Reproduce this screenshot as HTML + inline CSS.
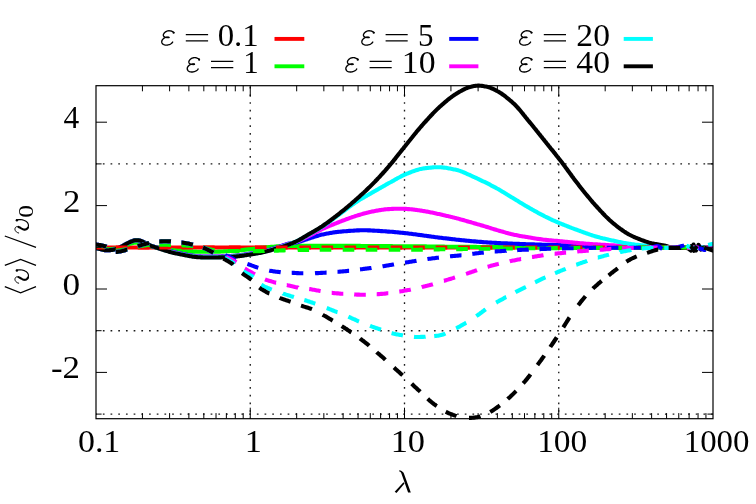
<!DOCTYPE html>
<html><head><meta charset="utf-8"><title>plot</title>
<style>html,body{margin:0;padding:0;background:#fff}svg{display:block;will-change:transform;transform:translateZ(0)}text{font-family:"Liberation Serif",serif;fill:#000}.it{font-style:italic}</style></head><body>
<svg width="756" height="504" viewBox="0 0 756 504">
<rect x="0" y="0" width="756" height="504" fill="#fff"/>
<defs><clipPath id="cp"><rect x="96.0" y="82.7" width="617.0" height="339.0"/></clipPath></defs>
<g stroke="#1a1a1a" stroke-width="1.35" fill="none" stroke-dasharray="1.70 6.00" stroke-dashoffset="0.85">
<path d="M96.0 163.90H713.0"/>
<path d="M96.0 330.70H713.0"/>
<path d="M96.0 414.10H713.0"/>
<path d="M250.25 418.7V85.7"/>
<path d="M404.50 418.7V85.7"/>
<path d="M558.75 418.7V85.7"/>
</g>
<g clip-path="url(#cp)" fill="none" stroke-width="4.1" stroke-linejoin="round">
<path d="M96.0 247.5L713.0 247.5" stroke="#ff0000"/>
<path d="M84.0 245.6L85.0 245.8L86.0 246.0L87.0 246.2L88.0 246.4L89.0 246.5L90.0 246.7L91.0 246.9L92.0 247.1L93.0 247.3L94.0 247.4L95.0 247.6L96.0 247.8L97.0 248.0L98.0 248.2L99.0 248.4L100.0 248.5L101.0 248.7L102.0 248.8L103.0 249.0L104.0 249.1L105.0 249.2L106.0 249.3L107.0 249.3L108.0 249.3L109.0 249.2L110.0 249.2L111.0 249.1L112.0 249.0L113.0 248.9L114.0 248.8L115.0 248.7L116.0 248.5L117.0 248.3L118.0 248.0L119.0 247.7L120.0 247.4L121.0 247.0L122.0 246.7L123.0 246.4L124.0 246.0L125.0 245.6L126.0 245.2L127.0 244.9L128.0 244.5L129.0 244.1L130.0 243.8L131.0 243.5L132.0 243.2L133.0 243.0L134.0 242.8L135.0 242.7L136.0 242.6L137.0 242.6L138.0 242.7L139.0 242.8L140.0 242.9L141.0 243.1L142.0 243.4L143.0 243.7L144.0 244.1L145.0 244.4L146.0 244.7L147.0 245.1L148.0 245.5L149.0 245.8L150.0 246.1L151.0 246.4L152.0 246.6L153.0 246.8L154.0 247.0L155.0 247.2L156.0 247.4L157.0 247.6L158.0 247.8L159.0 248.0L160.0 248.2L161.0 248.4L162.0 248.6L163.0 248.8L164.0 249.0L165.0 249.2L166.0 249.4L167.0 249.5L168.0 249.7L169.0 249.9L170.0 250.0L171.0 250.1L172.0 250.2L173.0 250.3L174.0 250.4L175.0 250.5L176.0 250.6L177.0 250.7L178.0 250.7L179.0 250.8L180.0 250.9L181.0 250.9L182.0 251.0L183.0 251.1L184.0 251.1L185.0 251.2L186.0 251.2L187.0 251.3L188.0 251.3L189.0 251.4L190.0 251.4L191.0 251.5L192.0 251.5L193.0 251.6L194.0 251.6L195.0 251.6L196.0 251.6L197.0 251.7L198.0 251.7L199.0 251.7L200.0 251.7L201.0 251.7L202.0 251.7L203.0 251.7L204.0 251.7L205.0 251.7L206.0 251.7L207.0 251.7L208.0 251.7L209.0 251.7L210.0 251.7L211.0 251.7L212.0 251.7L213.0 251.7L214.0 251.7L215.0 251.7L216.0 251.7L217.0 251.7L218.0 251.6L219.0 251.6L220.0 251.6L221.0 251.5L222.0 251.5L223.0 251.5L224.0 251.4L225.0 251.3L226.0 251.3L227.0 251.2L228.0 251.2L229.0 251.1L230.0 251.0L231.0 251.0L232.0 250.9L233.0 250.8L234.0 250.8L235.0 250.7L236.0 250.6L237.0 250.6L238.0 250.5L239.0 250.4L240.0 250.3L241.0 250.2L242.0 250.1L243.0 250.0L244.0 249.9L245.0 249.8L246.0 249.6L247.0 249.5L248.0 249.4L249.0 249.3L250.0 249.2L251.0 249.1L252.0 249.0L253.0 248.9L254.0 248.7L255.0 248.6L256.0 248.5L257.0 248.4L258.0 248.3L259.0 248.1L260.0 248.0L261.0 247.9L262.0 247.8L263.0 247.7L264.0 247.6L265.0 247.5L266.0 247.4L267.0 247.3L268.0 247.2L269.0 247.1L270.0 247.0L271.0 246.9L272.0 246.8L273.0 246.7L274.0 246.7L275.0 246.6L276.0 246.5L277.0 246.4L278.0 246.4L279.0 246.3L280.0 246.3L281.0 246.3L282.0 246.2L283.0 246.2L284.0 246.2L285.0 246.1L286.0 246.1L287.0 246.1L288.0 246.1L289.0 246.0L290.0 246.0L291.0 246.0L292.0 246.0L293.0 246.0L294.0 245.9L295.0 245.9L296.0 245.9L297.0 245.9L298.0 245.9L299.0 245.9L300.0 245.9L301.0 245.9L302.0 245.9L303.0 245.9L304.0 245.9L305.0 245.9L306.0 245.9L307.0 245.9L308.0 245.9L309.0 245.9L310.0 245.9L311.0 245.9L312.0 245.9L313.0 245.9L314.0 245.9L315.0 245.9L316.0 245.9L317.0 245.9L318.0 245.9L319.0 245.9L320.0 245.9L321.0 245.9L322.0 245.9L323.0 245.9L324.0 245.9L325.0 245.9L326.0 245.9L327.0 245.9L328.0 245.9L329.0 245.9L330.0 245.9L331.0 245.9L332.0 245.9L333.0 245.9L334.0 245.9L335.0 245.9L336.0 245.9L337.0 245.9L338.0 245.9L339.0 245.9L340.0 245.9L341.0 245.9L342.0 245.9L343.0 245.9L344.0 245.9L345.0 245.9L346.0 245.9L347.0 245.9L348.0 245.9L349.0 245.9L350.0 245.9L351.0 245.9L352.0 245.9L353.0 245.9L354.0 245.9L355.0 245.9L356.0 245.9L357.0 245.9L358.0 245.9L359.0 245.9L360.0 245.9L361.0 246.0L362.0 246.0L363.0 246.0L364.0 246.0L365.0 246.0L366.0 246.0L367.0 246.0L368.0 246.0L369.0 246.0L370.0 246.0L371.0 246.0L372.0 246.0L373.0 246.0L374.0 246.0L375.0 246.0L376.0 246.0L377.0 246.0L378.0 246.0L379.0 246.1L380.0 246.1L381.0 246.1L382.0 246.1L383.0 246.1L384.0 246.1L385.0 246.1L386.0 246.1L387.0 246.1L388.0 246.1L389.0 246.1L390.0 246.1L391.0 246.1L392.0 246.1L393.0 246.2L394.0 246.2L395.0 246.2L396.0 246.2L397.0 246.2L398.0 246.2L399.0 246.2L400.0 246.2L401.0 246.2L402.0 246.2L403.0 246.2L404.0 246.2L405.0 246.2L406.0 246.2L407.0 246.3L408.0 246.3L409.0 246.3L410.0 246.3L411.0 246.3L412.0 246.3L413.0 246.3L414.0 246.3L415.0 246.3L416.0 246.3L417.0 246.3L418.0 246.4L419.0 246.4L420.0 246.4L421.0 246.4L422.0 246.4L423.0 246.4L424.0 246.4L425.0 246.4L426.0 246.4L427.0 246.5L428.0 246.5L429.0 246.5L430.0 246.5L431.0 246.5L432.0 246.5L433.0 246.5L434.0 246.5L435.0 246.5L436.0 246.6L437.0 246.6L438.0 246.6L439.0 246.6L440.0 246.6L441.0 246.6L442.0 246.6L443.0 246.6L444.0 246.6L445.0 246.7L446.0 246.7L447.0 246.7L448.0 246.7L449.0 246.7L450.0 246.7L451.0 246.7L452.0 246.7L453.0 246.7L454.0 246.7L455.0 246.7L456.0 246.8L457.0 246.8L458.0 246.8L459.0 246.8L460.0 246.8L461.0 246.8L462.0 246.8L463.0 246.8L464.0 246.8L465.0 246.8L466.0 246.9L467.0 246.9L468.0 246.9L469.0 246.9L470.0 246.9L471.0 246.9L472.0 246.9L473.0 246.9L474.0 246.9L475.0 246.9L476.0 246.9L477.0 247.0L478.0 247.0L479.0 247.0L480.0 247.0L481.0 247.0L482.0 247.0L483.0 247.0L484.0 247.0L485.0 247.0L486.0 247.0L487.0 247.0L488.0 247.1L489.0 247.1L490.0 247.1L491.0 247.1L492.0 247.1L493.0 247.1L494.0 247.1L495.0 247.1L496.0 247.1L497.0 247.1L498.0 247.1L499.0 247.1L500.0 247.2L501.0 247.2L502.0 247.2L503.0 247.2L504.0 247.2L505.0 247.2L506.0 247.2L507.0 247.2L508.0 247.2L509.0 247.2L510.0 247.2L511.0 247.2L512.0 247.2L513.0 247.3L514.0 247.3L515.0 247.3L516.0 247.3L517.0 247.3L518.0 247.3L519.0 247.3L520.0 247.3L521.0 247.3L522.0 247.3L523.0 247.3L524.0 247.3L525.0 247.3L526.0 247.3L527.0 247.3L528.0 247.4L529.0 247.4L530.0 247.4L531.0 247.4L532.0 247.4L533.0 247.4L534.0 247.4L535.0 247.4L536.0 247.4L537.0 247.4L538.0 247.4L539.0 247.4L540.0 247.4L541.0 247.4L542.0 247.4L543.0 247.5L544.0 247.5L545.0 247.5L546.0 247.5L547.0 247.5L548.0 247.5L549.0 247.5L550.0 247.5L551.0 247.5L552.0 247.5L553.0 247.5L554.0 247.5L555.0 247.5L556.0 247.5L557.0 247.5L558.0 247.6L559.0 247.6L560.0 247.6L561.0 247.6L562.0 247.6L563.0 247.6L564.0 247.6L565.0 247.6L566.0 247.6L567.0 247.6L568.0 247.6L569.0 247.6L570.0 247.6L571.0 247.6L572.0 247.6L573.0 247.6L574.0 247.6L575.0 247.6L576.0 247.6L577.0 247.6L578.0 247.7L579.0 247.7L580.0 247.7L581.0 247.7L582.0 247.7L583.0 247.7L584.0 247.7L585.0 247.7L586.0 247.7L587.0 247.7L588.0 247.7L589.0 247.7L590.0 247.7L591.0 247.7L592.0 247.7L593.0 247.7L594.0 247.7L595.0 247.7L596.0 247.7L597.0 247.7L598.0 247.7L599.0 247.7L600.0 247.7L601.0 247.7L602.0 247.7L603.0 247.7L604.0 247.7L605.0 247.7L606.0 247.7L607.0 247.7L608.0 247.7L609.0 247.7L610.0 247.7L611.0 247.7L612.0 247.7L613.0 247.7L614.0 247.7L615.0 247.7L616.0 247.7L617.0 247.7L618.0 247.7L619.0 247.7L620.0 247.7L621.0 247.7L622.0 247.7L623.0 247.7L624.0 247.7L625.0 247.7L626.0 247.7L627.0 247.7L628.0 247.7L629.0 247.7L630.0 247.7L631.0 247.7L632.0 247.7L633.0 247.7L634.0 247.7L635.0 247.7L636.0 247.7L637.0 247.6L638.0 247.6L639.0 247.6L640.0 247.6L641.0 247.6L642.0 247.6L643.0 247.6L644.0 247.6L645.0 247.6L646.0 247.6L647.0 247.6L648.0 247.6L649.0 247.6L650.0 247.6L651.0 247.6L652.0 247.6L653.0 247.6L654.0 247.6L655.0 247.6L656.0 247.6L657.0 247.6L658.0 247.6L659.0 247.6L660.0 247.6L661.0 247.6L662.0 247.6L663.0 247.6L664.0 247.6L665.0 247.6L666.0 247.6L667.0 247.6L668.0 247.6L669.0 247.6L670.0 247.6L671.0 247.6L672.0 247.6L673.0 247.6L674.0 247.6L675.0 247.6L676.0 247.6L677.0 247.5L678.0 247.5L679.0 247.5L680.0 247.5L681.0 247.5L682.0 247.5L683.0 247.5L684.0 247.5L685.0 247.5L686.0 247.5L713.0 247.5L722.0 247.5" stroke="#00ff00"/>
<path d="M84.0 244.9L85.0 245.1L86.0 245.4L87.0 245.7L88.0 245.9L89.0 246.2L90.0 246.4L91.0 246.7L92.0 247.0L93.0 247.2L94.0 247.5L95.0 247.7L96.0 248.0L97.0 248.3L98.0 248.5L99.0 248.8L100.0 249.1L101.0 249.3L102.0 249.5L103.0 249.8L104.0 250.0L105.0 250.2L106.0 250.3L107.0 250.3L108.0 250.3L109.0 250.2L110.0 250.1L111.0 250.0L112.0 249.9L113.0 249.7L114.0 249.5L115.0 249.3L116.0 249.0L117.0 248.7L118.0 248.3L119.0 247.8L120.0 247.3L121.0 246.8L122.0 246.3L123.0 245.8L124.0 245.2L125.0 244.6L126.0 244.1L127.0 243.5L128.0 243.0L129.0 242.5L130.0 242.0L131.0 241.6L132.0 241.2L133.0 240.9L134.0 240.5L135.0 240.3L136.0 240.2L137.0 240.2L138.0 240.3L139.0 240.4L140.0 240.6L141.0 240.9L142.0 241.3L143.0 241.8L144.0 242.3L145.0 242.8L146.0 243.3L147.0 243.9L148.0 244.4L149.0 244.9L150.0 245.4L151.0 245.8L152.0 246.2L153.0 246.5L154.0 246.8L155.0 247.1L156.0 247.3L157.0 247.6L158.0 247.8L159.0 248.0L160.0 248.3L161.0 248.5L162.0 248.7L163.0 249.0L164.0 249.2L165.0 249.5L166.0 249.9L167.0 250.2L168.0 250.5L169.0 250.8L170.0 251.1L171.0 251.4L172.0 251.6L173.0 251.8L174.0 252.1L175.0 252.3L176.0 252.5L177.0 252.7L178.0 252.9L179.0 253.1L180.0 253.3L181.0 253.5L182.0 253.7L183.0 253.9L184.0 254.1L185.0 254.3L186.0 254.5L187.0 254.7L188.0 254.9L189.0 255.1L190.0 255.3L191.0 255.4L192.0 255.6L193.0 255.8L194.0 255.9L195.0 256.0L196.0 256.1L197.0 256.2L198.0 256.3L199.0 256.3L200.0 256.4L201.0 256.5L202.0 256.5L203.0 256.6L204.0 256.6L205.0 256.6L206.0 256.6L207.0 256.6L208.0 256.6L209.0 256.6L210.0 256.6L211.0 256.6L212.0 256.6L213.0 256.6L214.0 256.6L215.0 256.6L216.0 256.6L217.0 256.6L218.0 256.6L219.0 256.5L220.0 256.5L221.0 256.5L222.0 256.4L223.0 256.4L224.0 256.3L225.0 256.3L226.0 256.3L227.0 256.2L228.0 256.2L229.0 256.1L230.0 256.0L231.0 256.0L232.0 255.9L233.0 255.8L234.0 255.7L235.0 255.7L236.0 255.6L237.0 255.5L238.0 255.4L239.0 255.3L240.0 255.1L241.0 255.0L242.0 254.9L243.0 254.7L244.0 254.6L245.0 254.4L246.0 254.3L247.0 254.1L248.0 253.9L249.0 253.8L250.0 253.6L251.0 253.5L252.0 253.3L253.0 253.2L254.0 253.0L255.0 252.9L256.0 252.7L257.0 252.5L258.0 252.4L259.0 252.2L260.0 252.0L261.0 251.8L262.0 251.6L263.0 251.4L264.0 251.2L265.0 250.9L266.0 250.7L267.0 250.4L268.0 250.1L269.0 249.9L270.0 249.6L271.0 249.3L272.0 249.0L273.0 248.7L274.0 248.4L275.0 248.1L276.0 247.8L277.0 247.5L278.0 247.2L279.0 246.8L280.0 246.4L281.0 246.1L282.0 245.7L283.0 245.3L284.0 245.0L285.0 244.7L286.0 244.3L287.0 244.1L288.0 243.8L289.0 243.6L290.0 243.5L291.0 243.3L292.0 243.2L293.0 243.1L294.0 242.9L295.0 242.8L296.0 242.6L297.0 242.4L298.0 242.1L299.0 241.8L300.0 241.5L301.0 241.2L302.0 240.9L303.0 240.5L304.0 240.2L305.0 239.8L306.0 239.5L307.0 239.2L308.0 238.9L309.0 238.6L310.0 238.2L311.0 237.9L312.0 237.6L313.0 237.3L314.0 236.9L315.0 236.6L316.0 236.3L317.0 236.0L318.0 235.7L319.0 235.4L320.0 235.1L321.0 234.8L322.0 234.6L323.0 234.4L324.0 234.2L325.0 234.0L326.0 233.8L327.0 233.6L328.0 233.4L329.0 233.2L330.0 233.0L331.0 232.9L332.0 232.7L333.0 232.5L334.0 232.4L335.0 232.3L336.0 232.1L337.0 232.0L338.0 231.9L339.0 231.8L340.0 231.7L341.0 231.6L342.0 231.5L343.0 231.4L344.0 231.3L345.0 231.3L346.0 231.2L347.0 231.1L348.0 231.0L349.0 230.9L350.0 230.9L351.0 230.8L352.0 230.7L353.0 230.7L354.0 230.6L355.0 230.5L356.0 230.5L357.0 230.4L358.0 230.4L359.0 230.4L360.0 230.3L361.0 230.3L362.0 230.3L363.0 230.3L364.0 230.3L365.0 230.3L366.0 230.3L367.0 230.3L368.0 230.4L369.0 230.4L370.0 230.4L371.0 230.5L372.0 230.5L373.0 230.6L374.0 230.6L375.0 230.7L376.0 230.7L377.0 230.8L378.0 230.9L379.0 230.9L380.0 231.0L381.0 231.1L382.0 231.1L383.0 231.2L384.0 231.3L385.0 231.3L386.0 231.4L387.0 231.5L388.0 231.6L389.0 231.6L390.0 231.7L391.0 231.8L392.0 231.8L393.0 231.9L394.0 232.0L395.0 232.1L396.0 232.2L397.0 232.3L398.0 232.4L399.0 232.5L400.0 232.6L401.0 232.7L402.0 232.8L403.0 232.9L404.0 233.0L405.0 233.1L406.0 233.2L407.0 233.3L408.0 233.4L409.0 233.6L410.0 233.7L411.0 233.8L412.0 233.9L413.0 234.1L414.0 234.2L415.0 234.3L416.0 234.4L417.0 234.6L418.0 234.7L419.0 234.9L420.0 235.0L421.0 235.1L422.0 235.3L423.0 235.4L424.0 235.6L425.0 235.7L426.0 235.8L427.0 236.0L428.0 236.1L429.0 236.3L430.0 236.4L431.0 236.5L432.0 236.7L433.0 236.8L434.0 236.9L435.0 237.1L436.0 237.2L437.0 237.3L438.0 237.5L439.0 237.6L440.0 237.7L441.0 237.8L442.0 237.9L443.0 238.1L444.0 238.2L445.0 238.3L446.0 238.4L447.0 238.5L448.0 238.6L449.0 238.8L450.0 238.9L451.0 239.0L452.0 239.1L453.0 239.2L454.0 239.3L455.0 239.4L456.0 239.6L457.0 239.7L458.0 239.8L459.0 239.9L460.0 240.0L461.0 240.1L462.0 240.2L463.0 240.3L464.0 240.4L465.0 240.5L466.0 240.6L467.0 240.7L468.0 240.8L469.0 240.9L470.0 241.0L471.0 241.1L472.0 241.2L473.0 241.3L474.0 241.4L475.0 241.4L476.0 241.5L477.0 241.6L478.0 241.7L479.0 241.8L480.0 241.9L481.0 241.9L482.0 242.0L483.0 242.1L484.0 242.2L485.0 242.3L486.0 242.3L487.0 242.4L488.0 242.5L489.0 242.5L490.0 242.6L491.0 242.6L492.0 242.7L493.0 242.8L494.0 242.8L495.0 242.9L496.0 242.9L497.0 243.0L498.0 243.0L499.0 243.1L500.0 243.1L501.0 243.2L502.0 243.2L503.0 243.2L504.0 243.3L505.0 243.3L506.0 243.4L507.0 243.4L508.0 243.5L509.0 243.5L510.0 243.6L511.0 243.6L512.0 243.6L513.0 243.7L514.0 243.7L515.0 243.8L516.0 243.8L517.0 243.8L518.0 243.9L519.0 243.9L520.0 244.0L521.0 244.0L522.0 244.0L523.0 244.1L524.0 244.1L525.0 244.1L526.0 244.2L527.0 244.2L528.0 244.2L529.0 244.3L530.0 244.3L531.0 244.3L532.0 244.4L533.0 244.4L534.0 244.4L535.0 244.5L536.0 244.5L537.0 244.5L538.0 244.6L539.0 244.6L540.0 244.6L541.0 244.6L542.0 244.7L543.0 244.7L544.0 244.7L545.0 244.8L546.0 244.8L547.0 244.8L548.0 244.8L549.0 244.9L550.0 244.9L551.0 244.9L552.0 244.9L553.0 245.0L554.0 245.0L555.0 245.0L556.0 245.0L557.0 245.1L558.0 245.1L559.0 245.1L560.0 245.1L561.0 245.2L562.0 245.2L563.0 245.2L564.0 245.2L565.0 245.2L566.0 245.3L567.0 245.3L568.0 245.3L569.0 245.3L570.0 245.4L571.0 245.4L572.0 245.4L573.0 245.4L574.0 245.4L575.0 245.5L576.0 245.5L577.0 245.5L578.0 245.5L579.0 245.5L580.0 245.6L581.0 245.6L582.0 245.6L583.0 245.6L584.0 245.6L585.0 245.7L586.0 245.7L587.0 245.7L588.0 245.7L589.0 245.7L590.0 245.8L591.0 245.8L592.0 245.8L593.0 245.8L594.0 245.8L595.0 245.8L596.0 245.9L597.0 245.9L598.0 245.9L599.0 245.9L600.0 245.9L601.0 246.0L602.0 246.0L603.0 246.0L604.0 246.0L605.0 246.0L606.0 246.1L607.0 246.1L608.0 246.1L609.0 246.1L610.0 246.1L611.0 246.2L612.0 246.2L613.0 246.2L614.0 246.2L615.0 246.2L616.0 246.3L617.0 246.3L618.0 246.3L619.0 246.3L620.0 246.3L621.0 246.4L622.0 246.4L623.0 246.4L624.0 246.4L625.0 246.5L626.0 246.5L627.0 246.5L628.0 246.5L629.0 246.5L630.0 246.6L631.0 246.6L632.0 246.6L633.0 246.6L634.0 246.7L635.0 246.7L636.0 246.7L637.0 246.7L638.0 246.8L639.0 246.8L640.0 246.8L641.0 246.8L642.0 246.8L643.0 246.9L644.0 246.9L645.0 246.9L646.0 246.9L647.0 247.0L648.0 247.0L649.0 247.0L650.0 247.0L651.0 247.0L652.0 247.1L653.0 247.1L654.0 247.1L655.0 247.1L656.0 247.1L657.0 247.1L658.0 247.2L659.0 247.2L660.0 247.2L661.0 247.2L662.0 247.2L663.0 247.2L664.0 247.2L665.0 247.3L666.0 247.3L667.0 247.3L668.0 247.3L669.0 247.3L670.0 247.3L671.0 247.3L672.0 247.3L673.0 247.3L674.0 247.3L675.0 247.3L676.0 247.3L677.0 247.3L678.0 247.4L679.0 247.4L680.0 247.4L681.0 247.4L682.0 247.4L683.0 247.4L684.0 247.4L685.0 247.4L686.0 247.4L713.0 247.5L722.0 247.5" stroke="#0000ff"/>
<path d="M84.0 244.9L85.0 245.1L86.0 245.4L87.0 245.7L88.0 245.9L89.0 246.2L90.0 246.4L91.0 246.7L92.0 247.0L93.0 247.2L94.0 247.5L95.0 247.7L96.0 248.0L97.0 248.3L98.0 248.5L99.0 248.8L100.0 249.1L101.0 249.3L102.0 249.5L103.0 249.8L104.0 250.0L105.0 250.2L106.0 250.3L107.0 250.3L108.0 250.3L109.0 250.2L110.0 250.1L111.0 250.0L112.0 249.9L113.0 249.7L114.0 249.5L115.0 249.3L116.0 249.0L117.0 248.7L118.0 248.3L119.0 247.8L120.0 247.3L121.0 246.8L122.0 246.3L123.0 245.8L124.0 245.2L125.0 244.6L126.0 244.1L127.0 243.5L128.0 243.0L129.0 242.5L130.0 242.0L131.0 241.6L132.0 241.2L133.0 240.9L134.0 240.5L135.0 240.3L136.0 240.2L137.0 240.2L138.0 240.3L139.0 240.4L140.0 240.6L141.0 240.9L142.0 241.3L143.0 241.8L144.0 242.3L145.0 242.8L146.0 243.3L147.0 243.9L148.0 244.4L149.0 244.9L150.0 245.4L151.0 245.8L152.0 246.2L153.0 246.5L154.0 246.8L155.0 247.1L156.0 247.4L157.0 247.7L158.0 247.9L159.0 248.2L160.0 248.4L161.0 248.7L162.0 249.0L163.0 249.3L164.0 249.5L165.0 249.9L166.0 250.2L167.0 250.5L168.0 250.8L169.0 251.1L170.0 251.4L171.0 251.7L172.0 251.9L173.0 252.1L174.0 252.4L175.0 252.6L176.0 252.8L177.0 253.0L178.0 253.2L179.0 253.4L180.0 253.6L181.0 253.8L182.0 254.0L183.0 254.2L184.0 254.4L185.0 254.6L186.0 254.8L187.0 255.0L188.0 255.2L189.0 255.4L190.0 255.6L191.0 255.7L192.0 255.9L193.0 256.1L194.0 256.2L195.0 256.3L196.0 256.4L197.0 256.5L198.0 256.6L199.0 256.6L200.0 256.7L201.0 256.8L202.0 256.8L203.0 256.9L204.0 256.9L205.0 256.9L206.0 256.9L207.0 256.9L208.0 256.9L209.0 256.9L210.0 256.9L211.0 256.9L212.0 256.9L213.0 256.9L214.0 256.9L215.0 256.9L216.0 256.9L217.0 256.9L218.0 256.9L219.0 256.8L220.0 256.8L221.0 256.8L222.0 256.7L223.0 256.7L224.0 256.6L225.0 256.6L226.0 256.6L227.0 256.5L228.0 256.5L229.0 256.4L230.0 256.3L231.0 256.3L232.0 256.2L233.0 256.1L234.0 256.0L235.0 256.0L236.0 255.9L237.0 255.8L238.0 255.7L239.0 255.6L240.0 255.4L241.0 255.3L242.0 255.2L243.0 255.0L244.0 254.9L245.0 254.7L246.0 254.6L247.0 254.4L248.0 254.2L249.0 254.1L250.0 253.9L251.0 253.8L252.0 253.6L253.0 253.5L254.0 253.3L255.0 253.2L256.0 253.0L257.0 252.8L258.0 252.7L259.0 252.5L260.0 252.3L261.0 252.1L262.0 251.9L263.0 251.7L264.0 251.5L265.0 251.2L266.0 251.0L267.0 250.7L268.0 250.4L269.0 250.2L270.0 249.9L271.0 249.6L272.0 249.3L273.0 249.0L274.0 248.7L275.0 248.4L276.0 248.1L277.0 247.8L278.0 247.5L279.0 247.2L280.0 246.8L281.0 246.5L282.0 246.1L283.0 245.8L284.0 245.5L285.0 245.1L286.0 244.8L287.0 244.5L288.0 244.2L289.0 243.9L290.0 243.6L291.0 243.4L292.0 243.1L293.0 242.9L294.0 242.6L295.0 242.3L296.0 242.0L297.0 241.6L298.0 241.2L299.0 240.8L300.0 240.4L301.0 239.9L302.0 239.4L303.0 238.9L304.0 238.4L305.0 237.8L306.0 237.3L307.0 236.9L308.0 236.4L309.0 235.9L310.0 235.3L311.0 234.8L312.0 234.3L313.0 233.8L314.0 233.3L315.0 232.7L316.0 232.2L317.0 231.7L318.0 231.2L319.0 230.7L320.0 230.2L321.0 229.7L322.0 229.2L323.0 228.7L324.0 228.3L325.0 227.8L326.0 227.4L327.0 227.0L328.0 226.5L329.0 226.1L330.0 225.7L331.0 225.3L332.0 224.9L333.0 224.5L334.0 224.1L335.0 223.7L336.0 223.3L337.0 222.9L338.0 222.5L339.0 222.1L340.0 221.7L341.0 221.3L342.0 220.9L343.0 220.5L344.0 220.2L345.0 219.8L346.0 219.4L347.0 219.0L348.0 218.7L349.0 218.3L350.0 217.9L351.0 217.6L352.0 217.2L353.0 216.9L354.0 216.6L355.0 216.2L356.0 215.9L357.0 215.6L358.0 215.3L359.0 215.0L360.0 214.7L361.0 214.4L362.0 214.1L363.0 213.8L364.0 213.5L365.0 213.2L366.0 213.0L367.0 212.7L368.0 212.5L369.0 212.2L370.0 212.0L371.0 211.8L372.0 211.5L373.0 211.4L374.0 211.2L375.0 211.0L376.0 210.8L377.0 210.6L378.0 210.5L379.0 210.3L380.0 210.1L381.0 210.0L382.0 209.8L383.0 209.7L384.0 209.5L385.0 209.4L386.0 209.3L387.0 209.2L388.0 209.1L389.0 209.1L390.0 209.0L391.0 209.0L392.0 208.9L393.0 208.9L394.0 208.8L395.0 208.8L396.0 208.8L397.0 208.7L398.0 208.7L399.0 208.7L400.0 208.7L401.0 208.7L402.0 208.7L403.0 208.8L404.0 208.8L405.0 208.9L406.0 208.9L407.0 209.0L408.0 209.1L409.0 209.1L410.0 209.2L411.0 209.3L412.0 209.4L413.0 209.5L414.0 209.6L415.0 209.7L416.0 209.9L417.0 210.0L418.0 210.2L419.0 210.3L420.0 210.5L421.0 210.6L422.0 210.8L423.0 211.0L424.0 211.1L425.0 211.3L426.0 211.5L427.0 211.6L428.0 211.8L429.0 212.0L430.0 212.2L431.0 212.4L432.0 212.6L433.0 212.8L434.0 213.0L435.0 213.2L436.0 213.4L437.0 213.7L438.0 213.9L439.0 214.1L440.0 214.3L441.0 214.5L442.0 214.7L443.0 215.0L444.0 215.2L445.0 215.4L446.0 215.7L447.0 215.9L448.0 216.1L449.0 216.4L450.0 216.6L451.0 216.9L452.0 217.1L453.0 217.4L454.0 217.6L455.0 217.9L456.0 218.1L457.0 218.4L458.0 218.6L459.0 218.9L460.0 219.2L461.0 219.5L462.0 219.7L463.0 220.0L464.0 220.3L465.0 220.6L466.0 220.9L467.0 221.2L468.0 221.5L469.0 221.8L470.0 222.0L471.0 222.3L472.0 222.6L473.0 222.9L474.0 223.2L475.0 223.5L476.0 223.8L477.0 224.1L478.0 224.4L479.0 224.6L480.0 224.9L481.0 225.2L482.0 225.5L483.0 225.8L484.0 226.1L485.0 226.4L486.0 226.7L487.0 227.0L488.0 227.3L489.0 227.6L490.0 227.9L491.0 228.3L492.0 228.6L493.0 228.9L494.0 229.2L495.0 229.5L496.0 229.8L497.0 230.1L498.0 230.4L499.0 230.7L500.0 231.0L501.0 231.3L502.0 231.5L503.0 231.8L504.0 232.1L505.0 232.4L506.0 232.7L507.0 232.9L508.0 233.2L509.0 233.5L510.0 233.7L511.0 234.0L512.0 234.2L513.0 234.4L514.0 234.7L515.0 234.9L516.0 235.1L517.0 235.3L518.0 235.5L519.0 235.7L520.0 235.9L521.0 236.1L522.0 236.2L523.0 236.4L524.0 236.6L525.0 236.8L526.0 236.9L527.0 237.1L528.0 237.3L529.0 237.4L530.0 237.6L531.0 237.8L532.0 237.9L533.0 238.1L534.0 238.2L535.0 238.4L536.0 238.6L537.0 238.7L538.0 238.9L539.0 239.0L540.0 239.1L541.0 239.3L542.0 239.4L543.0 239.6L544.0 239.7L545.0 239.8L546.0 239.9L547.0 240.0L548.0 240.1L549.0 240.2L550.0 240.3L551.0 240.4L552.0 240.5L553.0 240.6L554.0 240.7L555.0 240.8L556.0 240.8L557.0 240.9L558.0 241.0L559.0 241.1L560.0 241.2L561.0 241.3L562.0 241.4L563.0 241.5L564.0 241.6L565.0 241.7L566.0 241.8L567.0 241.9L568.0 242.0L569.0 242.1L570.0 242.2L571.0 242.3L572.0 242.4L573.0 242.5L574.0 242.6L575.0 242.7L576.0 242.8L577.0 242.9L578.0 243.0L579.0 243.1L580.0 243.2L581.0 243.3L582.0 243.4L583.0 243.4L584.0 243.5L585.0 243.6L586.0 243.7L587.0 243.7L588.0 243.8L589.0 243.9L590.0 244.0L591.0 244.0L592.0 244.1L593.0 244.2L594.0 244.2L595.0 244.3L596.0 244.4L597.0 244.4L598.0 244.5L599.0 244.6L600.0 244.6L601.0 244.7L602.0 244.8L603.0 244.8L604.0 244.9L605.0 244.9L606.0 245.0L607.0 245.1L608.0 245.1L609.0 245.2L610.0 245.2L611.0 245.3L612.0 245.3L613.0 245.4L614.0 245.4L615.0 245.5L616.0 245.5L617.0 245.6L618.0 245.6L619.0 245.7L620.0 245.7L621.0 245.8L622.0 245.8L623.0 245.9L624.0 245.9L625.0 246.0L626.0 246.0L627.0 246.0L628.0 246.1L629.0 246.1L630.0 246.2L631.0 246.2L632.0 246.3L633.0 246.3L634.0 246.3L635.0 246.4L636.0 246.4L637.0 246.5L638.0 246.5L639.0 246.5L640.0 246.6L641.0 246.6L642.0 246.6L643.0 246.7L644.0 246.7L645.0 246.7L646.0 246.8L647.0 246.8L648.0 246.8L649.0 246.9L650.0 246.9L651.0 246.9L652.0 247.0L653.0 247.0L654.0 247.0L655.0 247.1L656.0 247.1L657.0 247.1L658.0 247.2L659.0 247.2L660.0 247.2L661.0 247.2L662.0 247.3L663.0 247.3L664.0 247.3L665.0 247.3L666.0 247.4L667.0 247.4L668.0 247.4L669.0 247.4L670.0 247.4L671.0 247.4L672.0 247.4L673.0 247.4L674.0 247.4L675.0 247.4L676.0 247.4L677.0 247.4L678.0 247.4L679.0 247.4L680.0 247.4L681.0 247.4L682.0 247.4L683.0 247.5L684.0 247.5L685.0 247.5L686.0 247.5L713.0 247.5L722.0 247.5" stroke="#ff00ff"/>
<path d="M84.0 244.9L85.0 245.1L86.0 245.4L87.0 245.7L88.0 245.9L89.0 246.2L90.0 246.4L91.0 246.7L92.0 247.0L93.0 247.2L94.0 247.5L95.0 247.7L96.0 248.0L97.0 248.3L98.0 248.5L99.0 248.8L100.0 249.1L101.0 249.3L102.0 249.5L103.0 249.8L104.0 250.0L105.0 250.2L106.0 250.3L107.0 250.3L108.0 250.3L109.0 250.2L110.0 250.1L111.0 250.0L112.0 249.9L113.0 249.7L114.0 249.5L115.0 249.3L116.0 249.0L117.0 248.7L118.0 248.3L119.0 247.8L120.0 247.3L121.0 246.8L122.0 246.3L123.0 245.8L124.0 245.2L125.0 244.6L126.0 244.1L127.0 243.5L128.0 243.0L129.0 242.5L130.0 242.0L131.0 241.6L132.0 241.2L133.0 240.9L134.0 240.5L135.0 240.3L136.0 240.2L137.0 240.2L138.0 240.3L139.0 240.4L140.0 240.6L141.0 240.9L142.0 241.3L143.0 241.8L144.0 242.3L145.0 242.8L146.0 243.3L147.0 243.9L148.0 244.4L149.0 244.9L150.0 245.4L151.0 245.8L152.0 246.1L153.0 246.5L154.0 246.8L155.0 247.1L156.0 247.4L157.0 247.7L158.0 248.1L159.0 248.4L160.0 248.6L161.0 248.9L162.0 249.2L163.0 249.5L164.0 249.9L165.0 250.2L166.0 250.5L167.0 250.8L168.0 251.1L169.0 251.4L170.0 251.7L171.0 252.0L172.0 252.2L173.0 252.4L174.0 252.7L175.0 252.9L176.0 253.1L177.0 253.3L178.0 253.5L179.0 253.7L180.0 253.9L181.0 254.1L182.0 254.3L183.0 254.5L184.0 254.7L185.0 254.9L186.0 255.1L187.0 255.3L188.0 255.5L189.0 255.7L190.0 255.9L191.0 256.0L192.0 256.2L193.0 256.4L194.0 256.5L195.0 256.6L196.0 256.7L197.0 256.8L198.0 256.9L199.0 256.9L200.0 257.0L201.0 257.1L202.0 257.1L203.0 257.2L204.0 257.2L205.0 257.2L206.0 257.2L207.0 257.2L208.0 257.2L209.0 257.2L210.0 257.2L211.0 257.2L212.0 257.2L213.0 257.2L214.0 257.2L215.0 257.2L216.0 257.2L217.0 257.2L218.0 257.2L219.0 257.1L220.0 257.1L221.0 257.1L222.0 257.0L223.0 257.0L224.0 256.9L225.0 256.9L226.0 256.9L227.0 256.8L228.0 256.8L229.0 256.7L230.0 256.6L231.0 256.6L232.0 256.5L233.0 256.4L234.0 256.3L235.0 256.3L236.0 256.2L237.0 256.1L238.0 256.0L239.0 255.9L240.0 255.7L241.0 255.6L242.0 255.5L243.0 255.3L244.0 255.2L245.0 255.0L246.0 254.9L247.0 254.7L248.0 254.5L249.0 254.4L250.0 254.2L251.0 254.1L252.0 253.9L253.0 253.8L254.0 253.6L255.0 253.5L256.0 253.3L257.0 253.1L258.0 253.0L259.0 252.8L260.0 252.6L261.0 252.4L262.0 252.2L263.0 252.0L264.0 251.8L265.0 251.5L266.0 251.3L267.0 251.0L268.0 250.7L269.0 250.5L270.0 250.2L271.0 249.9L272.0 249.6L273.0 249.3L274.0 249.0L275.0 248.7L276.0 248.4L277.0 248.1L278.0 247.8L279.0 247.5L280.0 247.2L281.0 246.9L282.0 246.5L283.0 246.2L284.0 245.9L285.0 245.5L286.0 245.2L287.0 244.9L288.0 244.5L289.0 244.2L290.0 243.8L291.0 243.5L292.0 243.1L293.0 242.8L294.0 242.4L295.0 242.0L296.0 241.6L297.0 241.2L298.0 240.7L299.0 240.2L300.0 239.6L301.0 239.1L302.0 238.5L303.0 237.9L304.0 237.4L305.0 236.8L306.0 236.2L307.0 235.6L308.0 235.1L309.0 234.5L310.0 233.9L311.0 233.4L312.0 232.8L313.0 232.2L314.0 231.7L315.0 231.1L316.0 230.5L317.0 229.9L318.0 229.3L319.0 228.7L320.0 228.1L321.0 227.5L322.0 226.8L323.0 226.2L324.0 225.5L325.0 224.9L326.0 224.2L327.0 223.5L328.0 222.8L329.0 222.1L330.0 221.3L331.0 220.6L332.0 219.9L333.0 219.1L334.0 218.4L335.0 217.6L336.0 216.9L337.0 216.1L338.0 215.4L339.0 214.6L340.0 213.9L341.0 213.2L342.0 212.4L343.0 211.7L344.0 210.9L345.0 210.2L346.0 209.4L347.0 208.7L348.0 207.9L349.0 207.1L350.0 206.4L351.0 205.7L352.0 204.9L353.0 204.2L354.0 203.5L355.0 202.8L356.0 202.2L357.0 201.5L358.0 200.9L359.0 200.2L360.0 199.6L361.0 199.0L362.0 198.4L363.0 197.8L364.0 197.3L365.0 196.7L366.0 196.1L367.0 195.6L368.0 195.0L369.0 194.4L370.0 193.9L371.0 193.3L372.0 192.7L373.0 192.2L374.0 191.6L375.0 191.0L376.0 190.4L377.0 189.9L378.0 189.3L379.0 188.7L380.0 188.1L381.0 187.6L382.0 187.0L383.0 186.4L384.0 185.8L385.0 185.3L386.0 184.7L387.0 184.2L388.0 183.6L389.0 183.0L390.0 182.5L391.0 182.0L392.0 181.4L393.0 180.8L394.0 180.3L395.0 179.7L396.0 179.1L397.0 178.6L398.0 178.0L399.0 177.5L400.0 177.0L401.0 176.4L402.0 175.9L403.0 175.4L404.0 175.0L405.0 174.5L406.0 174.1L407.0 173.7L408.0 173.3L409.0 172.9L410.0 172.5L411.0 172.1L412.0 171.7L413.0 171.3L414.0 171.0L415.0 170.6L416.0 170.3L417.0 170.0L418.0 169.7L419.0 169.4L420.0 169.1L421.0 168.9L422.0 168.7L423.0 168.5L424.0 168.4L425.0 168.3L426.0 168.1L427.0 168.0L428.0 167.9L429.0 167.8L430.0 167.7L431.0 167.6L432.0 167.5L433.0 167.4L434.0 167.3L435.0 167.3L436.0 167.2L437.0 167.2L438.0 167.2L439.0 167.2L440.0 167.2L441.0 167.3L442.0 167.4L443.0 167.5L444.0 167.6L445.0 167.7L446.0 167.8L447.0 168.0L448.0 168.2L449.0 168.4L450.0 168.6L451.0 168.8L452.0 169.0L453.0 169.2L454.0 169.4L455.0 169.6L456.0 169.8L457.0 170.1L458.0 170.3L459.0 170.6L460.0 170.9L461.0 171.3L462.0 171.7L463.0 172.1L464.0 172.5L465.0 172.9L466.0 173.4L467.0 173.8L468.0 174.3L469.0 174.7L470.0 175.2L471.0 175.7L472.0 176.1L473.0 176.6L474.0 177.0L475.0 177.5L476.0 177.9L477.0 178.4L478.0 178.8L479.0 179.3L480.0 179.8L481.0 180.3L482.0 180.8L483.0 181.3L484.0 181.7L485.0 182.2L486.0 182.7L487.0 183.2L488.0 183.7L489.0 184.2L490.0 184.7L491.0 185.3L492.0 185.8L493.0 186.3L494.0 186.8L495.0 187.4L496.0 187.9L497.0 188.5L498.0 189.0L499.0 189.6L500.0 190.2L501.0 190.8L502.0 191.4L503.0 192.0L504.0 192.6L505.0 193.2L506.0 193.8L507.0 194.4L508.0 195.1L509.0 195.7L510.0 196.3L511.0 196.9L512.0 197.5L513.0 198.1L514.0 198.7L515.0 199.3L516.0 199.9L517.0 200.5L518.0 201.1L519.0 201.8L520.0 202.4L521.0 203.0L522.0 203.6L523.0 204.2L524.0 204.8L525.0 205.4L526.0 206.0L527.0 206.6L528.0 207.2L529.0 207.7L530.0 208.3L531.0 208.9L532.0 209.4L533.0 210.0L534.0 210.6L535.0 211.1L536.0 211.7L537.0 212.2L538.0 212.8L539.0 213.3L540.0 213.9L541.0 214.4L542.0 214.9L543.0 215.4L544.0 215.9L545.0 216.5L546.0 217.0L547.0 217.4L548.0 217.9L549.0 218.4L550.0 218.9L551.0 219.3L552.0 219.8L553.0 220.3L554.0 220.7L555.0 221.2L556.0 221.6L557.0 222.0L558.0 222.5L559.0 222.9L560.0 223.3L561.0 223.7L562.0 224.1L563.0 224.5L564.0 224.9L565.0 225.3L566.0 225.7L567.0 226.1L568.0 226.5L569.0 226.9L570.0 227.3L571.0 227.7L572.0 228.1L573.0 228.4L574.0 228.8L575.0 229.2L576.0 229.5L577.0 229.9L578.0 230.3L579.0 230.6L580.0 231.0L581.0 231.4L582.0 231.7L583.0 232.1L584.0 232.5L585.0 232.8L586.0 233.2L587.0 233.5L588.0 233.9L589.0 234.2L590.0 234.6L591.0 234.9L592.0 235.3L593.0 235.6L594.0 235.9L595.0 236.2L596.0 236.5L597.0 236.8L598.0 237.1L599.0 237.3L600.0 237.6L601.0 237.9L602.0 238.1L603.0 238.4L604.0 238.6L605.0 238.8L606.0 239.1L607.0 239.3L608.0 239.5L609.0 239.8L610.0 240.0L611.0 240.2L612.0 240.4L613.0 240.6L614.0 240.8L615.0 241.1L616.0 241.3L617.0 241.5L618.0 241.7L619.0 241.9L620.0 242.1L621.0 242.3L622.0 242.5L623.0 242.7L624.0 242.9L625.0 243.1L626.0 243.3L627.0 243.4L628.0 243.6L629.0 243.8L630.0 243.9L631.0 244.0L632.0 244.2L633.0 244.3L634.0 244.4L635.0 244.6L636.0 244.7L637.0 244.8L638.0 244.9L639.0 245.0L640.0 245.1L641.0 245.2L642.0 245.3L643.0 245.4L644.0 245.5L645.0 245.6L646.0 245.7L647.0 245.8L648.0 245.9L649.0 246.0L650.0 246.1L651.0 246.2L652.0 246.3L653.0 246.4L654.0 246.5L655.0 246.6L656.0 246.7L657.0 246.8L658.0 246.9L659.0 247.0L660.0 247.1L661.0 247.1L662.0 247.2L663.0 247.2L664.0 247.3L665.0 247.3L666.0 247.3L667.0 247.3L668.0 247.4L669.0 247.4L670.0 247.4L671.0 247.4L672.0 247.4L673.0 247.5L674.0 247.5L675.0 247.5L676.0 247.5L677.0 247.5L678.0 247.5L679.0 247.5L680.0 247.5L681.0 247.6L682.0 247.6L683.0 247.6L684.0 247.6L685.0 247.6L686.0 247.6L690.0 247.6L713.0 247.4L722.0 247.4" stroke="#00ffff"/>
<path d="M84.0 244.9L85.0 245.1L86.0 245.4L87.0 245.7L88.0 245.9L89.0 246.2L90.0 246.4L91.0 246.7L92.0 247.0L93.0 247.2L94.0 247.5L95.0 247.7L96.0 248.0L97.0 248.3L98.0 248.5L99.0 248.8L100.0 249.1L101.0 249.3L102.0 249.5L103.0 249.8L104.0 250.0L105.0 250.2L106.0 250.3L107.0 250.3L108.0 250.3L109.0 250.2L110.0 250.1L111.0 250.0L112.0 249.9L113.0 249.7L114.0 249.5L115.0 249.3L116.0 249.0L117.0 248.7L118.0 248.3L119.0 247.8L120.0 247.3L121.0 246.8L122.0 246.3L123.0 245.8L124.0 245.2L125.0 244.6L126.0 244.1L127.0 243.5L128.0 243.0L129.0 242.5L130.0 242.0L131.0 241.6L132.0 241.2L133.0 240.9L134.0 240.5L135.0 240.3L136.0 240.2L137.0 240.2L138.0 240.3L139.0 240.4L140.0 240.6L141.0 240.9L142.0 241.3L143.0 241.8L144.0 242.3L145.0 242.8L146.0 243.3L147.0 243.9L148.0 244.4L149.0 244.9L150.0 245.4L151.0 245.8L152.0 246.1L153.0 246.5L154.0 246.8L155.0 247.1L156.0 247.5L157.0 247.8L158.0 248.2L159.0 248.5L160.0 248.8L161.0 249.2L162.0 249.5L163.0 249.8L164.0 250.2L165.0 250.5L166.0 250.8L167.0 251.1L168.0 251.4L169.0 251.7L170.0 252.0L171.0 252.3L172.0 252.5L173.0 252.7L174.0 253.0L175.0 253.2L176.0 253.4L177.0 253.6L178.0 253.8L179.0 254.0L180.0 254.2L181.0 254.4L182.0 254.6L183.0 254.8L184.0 255.0L185.0 255.2L186.0 255.4L187.0 255.6L188.0 255.8L189.0 256.0L190.0 256.2L191.0 256.3L192.0 256.5L193.0 256.7L194.0 256.8L195.0 256.9L196.0 257.0L197.0 257.1L198.0 257.2L199.0 257.2L200.0 257.3L201.0 257.4L202.0 257.4L203.0 257.5L204.0 257.5L205.0 257.5L206.0 257.5L207.0 257.5L208.0 257.5L209.0 257.5L210.0 257.5L211.0 257.5L212.0 257.5L213.0 257.5L214.0 257.5L215.0 257.5L216.0 257.5L217.0 257.5L218.0 257.5L219.0 257.4L220.0 257.4L221.0 257.4L222.0 257.3L223.0 257.3L224.0 257.2L225.0 257.2L226.0 257.2L227.0 257.1L228.0 257.1L229.0 257.0L230.0 256.9L231.0 256.9L232.0 256.8L233.0 256.7L234.0 256.6L235.0 256.6L236.0 256.5L237.0 256.4L238.0 256.3L239.0 256.2L240.0 256.0L241.0 255.9L242.0 255.8L243.0 255.6L244.0 255.5L245.0 255.3L246.0 255.2L247.0 255.0L248.0 254.8L249.0 254.7L250.0 254.5L251.0 254.4L252.0 254.2L253.0 254.1L254.0 253.9L255.0 253.8L256.0 253.6L257.0 253.4L258.0 253.3L259.0 253.1L260.0 252.9L261.0 252.7L262.0 252.5L263.0 252.3L264.0 252.1L265.0 251.8L266.0 251.6L267.0 251.3L268.0 251.0L269.0 250.8L270.0 250.5L271.0 250.2L272.0 249.9L273.0 249.6L274.0 249.3L275.0 249.0L276.0 248.7L277.0 248.4L278.0 248.1L279.0 247.8L280.0 247.5L281.0 247.2L282.0 246.9L283.0 246.6L284.0 246.2L285.0 245.9L286.0 245.5L287.0 245.2L288.0 244.8L289.0 244.5L290.0 244.1L291.0 243.7L292.0 243.3L293.0 242.9L294.0 242.4L295.0 242.0L296.0 241.5L297.0 241.0L298.0 240.5L299.0 240.0L300.0 239.4L301.0 238.8L302.0 238.3L303.0 237.7L304.0 237.1L305.0 236.5L306.0 235.9L307.0 235.3L308.0 234.7L309.0 234.2L310.0 233.6L311.0 233.0L312.0 232.4L313.0 231.9L314.0 231.3L315.0 230.7L316.0 230.1L317.0 229.5L318.0 228.9L319.0 228.3L320.0 227.6L321.0 227.0L322.0 226.4L323.0 225.7L324.0 225.0L325.0 224.3L326.0 223.6L327.0 222.9L328.0 222.2L329.0 221.5L330.0 220.7L331.0 220.0L332.0 219.2L333.0 218.5L334.0 217.7L335.0 216.9L336.0 216.2L337.0 215.4L338.0 214.6L339.0 213.8L340.0 213.0L341.0 212.2L342.0 211.4L343.0 210.6L344.0 209.8L345.0 209.0L346.0 208.2L347.0 207.3L348.0 206.5L349.0 205.7L350.0 204.8L351.0 204.0L352.0 203.1L353.0 202.2L354.0 201.4L355.0 200.5L356.0 199.6L357.0 198.7L358.0 197.8L359.0 196.9L360.0 196.0L361.0 195.1L362.0 194.2L363.0 193.3L364.0 192.4L365.0 191.4L366.0 190.5L367.0 189.5L368.0 188.5L369.0 187.6L370.0 186.6L371.0 185.6L372.0 184.6L373.0 183.6L374.0 182.6L375.0 181.6L376.0 180.5L377.0 179.5L378.0 178.4L379.0 177.4L380.0 176.3L381.0 175.2L382.0 174.1L383.0 173.0L384.0 171.9L385.0 170.8L386.0 169.6L387.0 168.5L388.0 167.3L389.0 166.2L390.0 165.0L391.0 163.8L392.0 162.6L393.0 161.4L394.0 160.1L395.0 158.9L396.0 157.6L397.0 156.3L398.0 155.0L399.0 153.7L400.0 152.5L401.0 151.2L402.0 149.9L403.0 148.7L404.0 147.4L405.0 146.2L406.0 144.9L407.0 143.7L408.0 142.4L409.0 141.2L410.0 140.0L411.0 138.7L412.0 137.5L413.0 136.2L414.0 135.0L415.0 133.8L416.0 132.6L417.0 131.3L418.0 130.1L419.0 129.0L420.0 127.8L421.0 126.6L422.0 125.5L423.0 124.3L424.0 123.2L425.0 122.1L426.0 121.0L427.0 119.9L428.0 118.8L429.0 117.7L430.0 116.6L431.0 115.5L432.0 114.5L433.0 113.4L434.0 112.4L435.0 111.4L436.0 110.4L437.0 109.4L438.0 108.4L439.0 107.5L440.0 106.6L441.0 105.7L442.0 104.8L443.0 103.9L444.0 103.1L445.0 102.2L446.0 101.4L447.0 100.5L448.0 99.7L449.0 98.9L450.0 98.1L451.0 97.4L452.0 96.6L453.0 95.9L454.0 95.2L455.0 94.6L456.0 93.9L457.0 93.3L458.0 92.7L459.0 92.1L460.0 91.5L461.0 91.0L462.0 90.4L463.0 89.8L464.0 89.3L465.0 88.8L466.0 88.4L467.0 88.0L468.0 87.6L469.0 87.3L470.0 87.0L471.0 86.8L472.0 86.5L473.0 86.3L474.0 86.1L475.0 85.9L476.0 85.8L477.0 85.7L478.0 85.6L479.0 85.6L480.0 85.7L481.0 85.8L482.0 85.9L483.0 86.0L484.0 86.2L485.0 86.4L486.0 86.6L487.0 86.8L488.0 87.0L489.0 87.3L490.0 87.7L491.0 88.1L492.0 88.5L493.0 88.9L494.0 89.4L495.0 89.9L496.0 90.4L497.0 91.0L498.0 91.5L499.0 92.1L500.0 92.7L501.0 93.3L502.0 94.0L503.0 94.7L504.0 95.4L505.0 96.2L506.0 97.0L507.0 97.8L508.0 98.6L509.0 99.4L510.0 100.3L511.0 101.1L512.0 102.0L513.0 102.9L514.0 103.8L515.0 104.8L516.0 105.8L517.0 106.9L518.0 108.0L519.0 109.1L520.0 110.3L521.0 111.5L522.0 112.7L523.0 113.9L524.0 115.2L525.0 116.4L526.0 117.7L527.0 118.9L528.0 120.2L529.0 121.4L530.0 122.6L531.0 123.8L532.0 125.0L533.0 126.2L534.0 127.5L535.0 128.7L536.0 129.9L537.0 131.2L538.0 132.4L539.0 133.7L540.0 134.9L541.0 136.2L542.0 137.4L543.0 138.7L544.0 139.9L545.0 141.2L546.0 142.4L547.0 143.7L548.0 144.9L549.0 146.2L550.0 147.4L551.0 148.7L552.0 149.9L553.0 151.1L554.0 152.4L555.0 153.6L556.0 154.9L557.0 156.2L558.0 157.4L559.0 158.7L560.0 160.0L561.0 161.3L562.0 162.6L563.0 163.9L564.0 165.3L565.0 166.6L566.0 168.0L567.0 169.3L568.0 170.7L569.0 172.1L570.0 173.4L571.0 174.8L572.0 176.2L573.0 177.5L574.0 178.9L575.0 180.2L576.0 181.5L577.0 182.8L578.0 184.1L579.0 185.4L580.0 186.7L581.0 188.0L582.0 189.2L583.0 190.5L584.0 191.7L585.0 193.0L586.0 194.2L587.0 195.4L588.0 196.6L589.0 197.8L590.0 199.0L591.0 200.2L592.0 201.4L593.0 202.6L594.0 203.7L595.0 204.8L596.0 205.9L597.0 207.0L598.0 208.1L599.0 209.2L600.0 210.3L601.0 211.4L602.0 212.4L603.0 213.5L604.0 214.5L605.0 215.6L606.0 216.6L607.0 217.6L608.0 218.5L609.0 219.5L610.0 220.4L611.0 221.3L612.0 222.2L613.0 223.1L614.0 223.9L615.0 224.7L616.0 225.5L617.0 226.3L618.0 227.1L619.0 227.8L620.0 228.6L621.0 229.3L622.0 230.0L623.0 230.7L624.0 231.4L625.0 232.0L626.0 232.7L627.0 233.3L628.0 233.9L629.0 234.5L630.0 235.0L631.0 235.5L632.0 236.0L633.0 236.5L634.0 237.0L635.0 237.4L636.0 237.8L637.0 238.2L638.0 238.6L639.0 239.0L640.0 239.4L641.0 239.8L642.0 240.2L643.0 240.5L644.0 240.9L645.0 241.3L646.0 241.6L647.0 241.9L648.0 242.3L649.0 242.6L650.0 242.9L651.0 243.1L652.0 243.4L653.0 243.6L654.0 243.8L655.0 244.0L656.0 244.1L657.0 244.3L658.0 244.4L659.0 244.6L660.0 244.7L661.0 244.9L662.0 245.1L663.0 245.2L664.0 245.4L665.0 245.6L666.0 245.9L667.0 246.2L668.0 246.6L669.0 247.0L670.0 247.2L671.0 247.4L672.0 247.5L673.0 247.7L674.0 247.8L675.0 247.9L676.0 247.9L677.0 247.9L678.0 247.9L679.0 247.9L680.0 247.9L681.0 247.9L682.0 247.9L683.0 247.9L684.0 247.9L685.0 247.9L686.0 248.0L688.0 248.3L691.0 250.5L693.5 244.5L696.0 250.5L698.5 244.8L701.0 249.5L704.0 247.5L708.0 248.0L713.0 248.2L722.0 248.2" stroke="#000000"/>
<path d="M93.3 247.5L94.0 247.5L95.0 247.5L96.0 247.5L97.0 247.5L98.0 247.5L99.0 247.5L100.0 247.5L101.0 247.5L102.0 247.5L103.0 247.5L104.0 247.5L104.9 247.5M115.8 247.5L116.0 247.5L117.0 247.5L118.0 247.5L119.0 247.5L120.0 247.5L121.0 247.5L122.0 247.5L123.0 247.5L124.0 247.5L125.0 247.5L126.0 247.5L127.0 247.5L127.4 247.5M137.8 247.5L138.0 247.5L139.0 247.5L140.0 247.5L141.0 247.5L142.0 247.5L143.0 247.5L144.0 247.5L145.0 247.5L146.0 247.5L147.0 247.5L148.0 247.5L149.0 247.5L149.4 247.5M159.3 247.5L160.0 247.5L161.0 247.5L162.0 247.5L163.0 247.5L164.0 247.5L165.0 247.5L166.0 247.5L167.0 247.5L168.0 247.5L169.0 247.5L170.0 247.5L170.9 247.5M181.5 247.5L182.0 247.5L183.0 247.5L184.0 247.5L185.0 247.5L186.0 247.5L187.0 247.5L188.0 247.5L189.0 247.5L190.0 247.5L191.0 247.5L192.0 247.5L193.0 247.5L193.1 247.5M203.0 247.5L204.0 247.5L205.0 247.5L206.0 247.5L207.0 247.5L208.0 247.5L209.0 247.5L210.0 247.5L211.0 247.5L212.0 247.5L213.0 247.5L214.0 247.5L214.6 247.5M228.9 247.5L229.0 247.5L230.0 247.5L231.0 247.5L232.0 247.5L233.0 247.5L234.0 247.5L235.0 247.5L236.0 247.5L237.0 247.5L238.0 247.5L239.0 247.5L240.0 247.5L240.5 247.5M254.9 247.5L255.0 247.5L256.0 247.5L257.0 247.5L258.0 247.5L259.0 247.5L260.0 247.5L261.0 247.5L262.0 247.5L263.0 247.5L264.0 247.5L265.0 247.5L266.0 247.5L266.5 247.5M276.0 247.5L277.0 247.5L278.0 247.5L279.0 247.5L280.0 247.5L281.0 247.5L282.0 247.5L283.0 247.5L284.0 247.5L285.0 247.5L286.0 247.5L287.0 247.5L287.6 247.5M299.3 247.5L300.0 247.5L301.0 247.5L302.0 247.5L303.0 247.5L304.0 247.5L305.0 247.5L306.0 247.5L307.0 247.5L308.0 247.5L309.0 247.5L310.0 247.5L310.9 247.5M321.5 247.5L322.0 247.5L323.0 247.5L324.0 247.5L325.0 247.5L326.0 247.5L327.0 247.5L328.0 247.5L329.0 247.5L330.0 247.5L331.0 247.5L332.0 247.5L333.0 247.5L333.1 247.5M344.5 247.5L345.0 247.5L346.0 247.5L347.0 247.5L348.0 247.5L349.0 247.5L350.0 247.5L351.0 247.5L352.0 247.5L353.0 247.5L354.0 247.5L355.0 247.5L356.0 247.5L356.1 247.5M367.7 247.5L368.0 247.5L369.0 247.5L370.0 247.5L371.0 247.5L372.0 247.5L373.0 247.5L374.0 247.5L375.0 247.5L376.0 247.5L377.0 247.5L378.0 247.5L379.0 247.5L379.3 247.5M390.7 247.5L391.0 247.5L392.0 247.5L393.0 247.5L394.0 247.5L395.0 247.5L396.0 247.5L397.0 247.5L398.0 247.5L399.0 247.5L400.0 247.5L401.0 247.5L402.0 247.5L402.3 247.5M413.2 247.5L414.0 247.5L415.0 247.5L416.0 247.5L417.0 247.5L418.0 247.5L419.0 247.5L420.0 247.5L421.0 247.5L422.0 247.5L423.0 247.5L424.0 247.5L424.8 247.5M435.7 247.5L436.0 247.5L437.0 247.5L438.0 247.5L439.0 247.5L440.0 247.5L441.0 247.5L442.0 247.5L443.0 247.5L444.0 247.5L445.0 247.5L446.0 247.5L447.0 247.5L447.3 247.5M458.2 247.5L459.0 247.5L460.0 247.5L461.0 247.5L462.0 247.5L463.0 247.5L464.0 247.5L465.0 247.5L466.0 247.5L467.0 247.5L468.0 247.5L469.0 247.5L469.8 247.5M480.7 247.5L481.0 247.5L482.0 247.5L483.0 247.5L484.0 247.5L485.0 247.5L486.0 247.5L487.0 247.5L488.0 247.5L489.0 247.5L490.0 247.5L491.0 247.5L492.0 247.5L492.3 247.5M503.2 247.5L504.0 247.5L505.0 247.5L506.0 247.5L507.0 247.5L508.0 247.5L509.0 247.5L510.0 247.5L511.0 247.5L512.0 247.5L513.0 247.5L514.0 247.5L514.8 247.5M525.7 247.5L526.0 247.5L527.0 247.5L528.0 247.5L529.0 247.5L530.0 247.5L531.0 247.5L532.0 247.5L533.0 247.5L534.0 247.5L535.0 247.5L536.0 247.5L537.0 247.5L537.3 247.5M548.2 247.5L549.0 247.5L550.0 247.5L551.0 247.5L552.0 247.5L553.0 247.5L554.0 247.5L555.0 247.5L556.0 247.5L557.0 247.5L558.0 247.5L559.0 247.5L559.8 247.5M570.7 247.5L571.0 247.5L572.0 247.5L573.0 247.5L574.0 247.5L575.0 247.5L576.0 247.5L577.0 247.5L578.0 247.5L579.0 247.5L580.0 247.5L581.0 247.5L582.0 247.5L582.3 247.5M593.2 247.5L594.0 247.5L595.0 247.5L596.0 247.5L597.0 247.5L598.0 247.5L599.0 247.5L600.0 247.5L601.0 247.5L602.0 247.5L603.0 247.5L604.0 247.5L604.8 247.5M615.7 247.5L616.0 247.5L617.0 247.5L618.0 247.5L619.0 247.5L620.0 247.5L621.0 247.5L622.0 247.5L623.0 247.5L624.0 247.5L625.0 247.5L626.0 247.5L627.0 247.5L627.3 247.5M638.2 247.5L639.0 247.5L640.0 247.5L641.0 247.5L642.0 247.5L643.0 247.5L644.0 247.5L645.0 247.5L646.0 247.5L647.0 247.5L648.0 247.5L649.0 247.5L649.8 247.5M660.7 247.5L661.0 247.5L662.0 247.5L663.0 247.5L664.0 247.5L665.0 247.5L666.0 247.5L667.0 247.5L668.0 247.5L669.0 247.5L670.0 247.5L671.0 247.5L672.0 247.5L672.3 247.5M683.2 247.5L684.0 247.5L685.0 247.5L686.0 247.5L694.8 247.5M705.7 247.5L713.0 247.5L717.3 247.5" stroke="#ff0000"/>
<path d="M94.2 245.2L95.0 245.3L96.0 245.4L97.0 245.5L98.0 245.6L99.0 245.7L100.0 245.9L101.0 246.0L102.0 246.1L103.0 246.3L104.0 246.4L105.0 246.6L105.7 246.7M115.8 250.6L116.0 250.6L117.0 250.6L118.0 250.5L119.0 250.4L120.0 250.2L121.0 250.1L122.0 250.0L123.0 249.8L124.0 249.6L125.0 249.4L126.0 249.2L127.0 249.0L127.3 248.9M137.8 246.6L138.0 246.6L139.0 246.4L140.0 246.2L141.0 246.0L142.0 245.9L143.0 245.7L144.0 245.5L145.0 245.4L146.0 245.2L147.0 245.1L148.0 244.9L149.0 244.9L149.3 244.8M159.3 244.7L160.0 244.7L161.0 244.7L162.0 244.7L163.0 244.8L164.0 244.8L165.0 244.8L166.0 244.8L167.0 244.8L168.0 244.8L169.0 244.9L170.0 244.9L170.9 244.9M181.5 245.3L182.0 245.3L183.0 245.4L184.0 245.4L185.0 245.5L186.0 245.5L187.0 245.6L188.0 245.7L189.0 245.8L190.0 245.8L191.0 245.9L192.0 246.0L193.0 246.1L193.1 246.1M203.0 247.6L204.0 247.8L205.0 248.0L206.0 248.2L207.0 248.5L208.0 248.7L209.0 249.0L210.0 249.2L211.0 249.4L212.0 249.7L213.0 249.9L214.0 250.1L214.3 250.2M227.8 251.0L228.0 251.0L229.0 251.0L230.0 251.0L231.0 251.0L232.0 251.0L233.0 251.0L234.0 251.1L235.0 251.1L236.0 251.1L237.0 251.1L238.0 251.1L239.0 251.1L239.4 251.1M252.9 251.2L253.0 251.2L254.0 251.2L255.0 251.2L256.0 251.1L257.0 251.1L258.0 251.1L259.0 251.1L260.0 251.1L261.0 251.0L262.0 251.0L263.0 251.0L264.0 251.0L264.5 250.9M274.0 250.7L275.0 250.7L276.0 250.6L277.0 250.6L278.0 250.6L279.0 250.5L280.0 250.5L281.0 250.5L282.0 250.4L283.0 250.4L284.0 250.4L285.0 250.3L285.6 250.3M297.5 250.1L298.0 250.0L299.0 250.0L300.0 250.0L301.0 250.0L302.0 250.0L303.0 250.0L304.0 249.9L305.0 249.9L306.0 249.9L307.0 249.9L308.0 249.9L309.0 249.9L309.1 249.9M319.7 249.8L320.0 249.8L321.0 249.8L322.0 249.8L323.0 249.8L324.0 249.8L325.0 249.8L326.0 249.8L327.0 249.8L328.0 249.8L329.0 249.8L330.0 249.8L331.0 249.8L331.3 249.8M342.7 249.8L343.0 249.8L344.0 249.8L345.0 249.8L346.0 249.8L347.0 249.8L348.0 249.8L349.0 249.8L350.0 249.8L351.0 249.8L352.0 249.8L353.0 249.8L354.0 249.8L354.3 249.8M365.7 249.8L366.0 249.8L367.0 249.8L368.0 249.8L369.0 249.8L370.0 249.8L371.0 249.8L372.0 249.8L373.0 249.8L374.0 249.8L375.0 249.8L376.0 249.8L377.0 249.8L377.3 249.8M388.7 249.8L389.0 249.8L390.0 249.8L391.0 249.8L392.0 249.8L393.0 249.8L394.0 249.8L395.0 249.8L396.0 249.8L397.0 249.8L398.0 249.8L399.0 249.8L400.0 249.8L400.3 249.8M411.2 249.7L412.0 249.7L413.0 249.7L414.0 249.7L415.0 249.7L416.0 249.7L417.0 249.7L418.0 249.7L419.0 249.7L420.0 249.6L421.0 249.6L422.0 249.6L422.8 249.6M433.7 249.4L434.0 249.4L435.0 249.4L436.0 249.4L437.0 249.4L438.0 249.4L439.0 249.4L440.0 249.3L441.0 249.3L442.0 249.3L443.0 249.3L444.0 249.3L445.0 249.3L445.3 249.3M456.2 249.1L457.0 249.1L458.0 249.1L459.0 249.1L460.0 249.1L461.0 249.1L462.0 249.1L463.0 249.0L464.0 249.0L465.0 249.0L466.0 249.0L467.0 249.0L467.8 249.0M478.7 248.8L479.0 248.8L480.0 248.8L481.0 248.8L482.0 248.8L483.0 248.8L484.0 248.8L485.0 248.8L486.0 248.8L487.0 248.7L488.0 248.7L489.0 248.7L490.0 248.7L490.3 248.7M501.2 248.6L502.0 248.6L503.0 248.6L504.0 248.6L505.0 248.6L506.0 248.5L507.0 248.5L508.0 248.5L509.0 248.5L510.0 248.5L511.0 248.5L512.0 248.5L512.8 248.5M523.7 248.4L524.0 248.4L525.0 248.4L526.0 248.4L527.0 248.4L528.0 248.3L529.0 248.3L530.0 248.3L531.0 248.3L532.0 248.3L533.0 248.3L534.0 248.3L535.0 248.3L535.3 248.3M546.2 248.2L547.0 248.2L548.0 248.2L549.0 248.2L550.0 248.2L551.0 248.2L552.0 248.2L553.0 248.2L554.0 248.1L555.0 248.1L556.0 248.1L557.0 248.1L557.8 248.1M568.7 248.0L569.0 248.0L570.0 248.0L571.0 248.0L572.0 248.0L573.0 248.0L574.0 248.0L575.0 248.0L576.0 248.0L577.0 248.0L578.0 248.0L579.0 248.0L580.0 247.9L580.3 247.9M591.2 247.9L592.0 247.9L593.0 247.8L594.0 247.8L595.0 247.8L596.0 247.8L597.0 247.8L598.0 247.8L599.0 247.8L600.0 247.8L601.0 247.8L602.0 247.8L602.8 247.8M613.7 247.7L614.0 247.7L615.0 247.7L616.0 247.7L617.0 247.7L618.0 247.7L619.0 247.7L620.0 247.7L621.0 247.7L622.0 247.7L623.0 247.7L624.0 247.7L625.0 247.7L625.3 247.7M636.2 247.6L637.0 247.6L638.0 247.6L639.0 247.6L640.0 247.6L641.0 247.6L642.0 247.6L643.0 247.6L644.0 247.6L645.0 247.6L646.0 247.6L647.0 247.6L647.8 247.6M658.7 247.6L659.0 247.6L660.0 247.6L661.0 247.6L662.0 247.6L663.0 247.6L664.0 247.6L665.0 247.6L666.0 247.6L667.0 247.6L668.0 247.6L669.0 247.6L670.0 247.6L670.3 247.6M681.2 247.5L682.0 247.5L683.0 247.5L684.0 247.5L685.0 247.5L686.0 247.5L692.8 247.5M703.7 247.5L713.0 247.5L715.3 247.5" stroke="#00ff00"/>
<path d="M84.0 242.6L84.3 242.6M95.0 244.3L96.0 244.5L97.0 244.7L98.0 244.8L99.0 245.0L100.0 245.1L101.0 245.3L102.0 245.5L103.0 245.7L104.0 245.9L105.0 246.2L106.0 246.5L106.4 246.7M115.8 252.0L116.0 252.0L117.0 251.9L118.0 251.8L119.0 251.6L120.0 251.4L121.0 251.2L122.0 251.0L123.0 250.7L124.0 250.5L125.0 250.2L126.0 249.9L127.0 249.6L127.1 249.6M137.8 246.2L138.0 246.1L139.0 245.8L140.0 245.5L141.0 245.2L142.0 244.9L143.0 244.6L144.0 244.3L145.0 244.0L146.0 243.7L147.0 243.5L148.0 243.2L149.0 243.0M159.3 241.5L160.0 241.5L161.0 241.4L162.0 241.4L163.0 241.3L164.0 241.3L165.0 241.3L166.0 241.3L167.0 241.3L168.0 241.4L169.0 241.4L170.0 241.4L170.9 241.5M181.5 242.6L182.0 242.6L183.0 242.8L184.0 242.9L185.0 243.1L186.0 243.3L187.0 243.4L188.0 243.6L189.0 243.8L190.0 244.0L191.0 244.2L192.0 244.4L192.9 244.6M203.0 247.6L204.0 248.0L205.0 248.4L206.0 248.9L207.0 249.3L208.0 249.8L209.0 250.3L210.0 250.8L211.0 251.4L212.0 252.0L213.0 252.7L213.3 252.8M225.2 255.2L226.0 255.5L227.0 255.9L228.0 256.2L229.0 256.6L230.0 257.1L231.0 257.6L232.0 258.1L233.0 258.7L234.0 259.3L235.0 259.8L235.7 260.1M247.4 263.9L248.0 264.1L249.0 264.5L250.0 264.8L251.0 265.2L252.0 265.6L253.0 265.9L254.0 266.3L255.0 266.7L256.0 267.0L257.0 267.4L258.0 267.7L258.3 267.8M269.2 270.5L270.0 270.7L271.0 270.9L272.0 271.0L273.0 271.2L274.0 271.4L275.0 271.5L276.0 271.7L277.0 271.8L278.0 271.9L279.0 272.0L280.0 272.1L280.7 272.2M291.7 272.8L292.0 272.8L293.0 272.9L294.0 272.9L295.0 273.0L296.0 273.0L297.0 273.1L298.0 273.1L299.0 273.2L300.0 273.2L301.0 273.3L302.0 273.3L303.0 273.3L303.3 273.3M315.0 273.2L316.0 273.1L317.0 273.1L318.0 273.1L319.0 273.0L320.0 273.0L321.0 272.9L322.0 272.9L323.0 272.8L324.0 272.8L325.0 272.7L326.0 272.6L326.6 272.6M337.5 271.8L338.0 271.8L339.0 271.7L340.0 271.6L341.0 271.5L342.0 271.5L343.0 271.4L344.0 271.3L345.0 271.2L346.0 271.1L347.0 271.0L348.0 270.9L349.0 270.8L349.1 270.8M360.0 269.4L361.0 269.3L362.0 269.2L363.0 269.0L364.0 268.9L365.0 268.8L366.0 268.6L367.0 268.5L368.0 268.4L369.0 268.3L370.0 268.1L371.0 268.0L371.5 267.9M382.5 266.3L383.0 266.2L384.0 266.1L385.0 265.9L386.0 265.8L387.0 265.6L388.0 265.4L389.0 265.3L390.0 265.1L391.0 264.9L392.0 264.8L393.0 264.6L394.0 264.4M405.0 262.6L406.0 262.5L407.0 262.3L408.0 262.2L409.0 262.0L410.0 261.8L411.0 261.7L412.0 261.5L413.0 261.3L414.0 261.2L415.0 261.0L416.0 260.9L416.5 260.8M427.4 259.1L428.0 259.0L429.0 258.8L430.0 258.7L431.0 258.6L432.0 258.4L433.0 258.3L434.0 258.2L435.0 258.1L436.0 257.9L437.0 257.8L438.0 257.7L438.9 257.6M450.0 256.3L451.0 256.2L452.0 256.1L453.0 256.0L454.0 256.0L455.0 255.9L456.0 255.8L457.0 255.7L458.0 255.6L459.0 255.5L460.0 255.4L461.0 255.2L461.5 255.2M472.3 253.9L473.0 253.8L474.0 253.7L475.0 253.5L476.0 253.4L477.0 253.3L478.0 253.2L479.0 253.0L480.0 252.9L481.0 252.8L482.0 252.7L483.0 252.6L483.8 252.5M494.7 251.5L495.0 251.5L496.0 251.4L497.0 251.4L498.0 251.3L499.0 251.2L500.0 251.2L501.0 251.1L502.0 251.0L503.0 251.0L504.0 250.9L505.0 250.8L506.0 250.8L506.2 250.7M517.1 250.1L518.0 250.0L519.0 250.0L520.0 249.9L521.0 249.9L522.0 249.8L523.0 249.8L524.0 249.7L525.0 249.7L526.0 249.6L527.0 249.6L528.0 249.6L528.7 249.5M539.5 249.1L540.0 249.1L541.0 249.0L542.0 249.0L543.0 249.0L544.0 248.9L545.0 248.9L546.0 248.9L547.0 248.8L548.0 248.8L549.0 248.8L550.0 248.7L551.0 248.7L551.1 248.7M562.0 248.4L563.0 248.4L564.0 248.4L565.0 248.4L566.0 248.3L567.0 248.3L568.0 248.3L569.0 248.3L570.0 248.2L571.0 248.2L572.0 248.2L573.0 248.2L573.6 248.2M584.5 248.0L585.0 247.9L586.0 247.9L587.0 247.9L588.0 247.9L589.0 247.9L590.0 247.9L591.0 247.9L592.0 247.9L593.0 247.8L594.0 247.8L595.0 247.8L596.0 247.8L596.1 247.8M606.8 247.8L607.0 247.8L608.0 247.8L609.0 247.8L610.0 247.8L611.0 247.8L612.0 247.8L613.0 247.8L614.0 247.8L615.0 247.8L616.0 247.8L617.0 247.8L618.0 247.8L618.4 247.8M629.3 247.7L630.0 247.7L631.0 247.7L632.0 247.7L633.0 247.7L634.0 247.7L635.0 247.7L636.0 247.7L637.0 247.7L638.0 247.7L639.0 247.7L640.0 247.7L640.9 247.7M651.8 247.2L652.0 247.2L653.0 247.0L654.0 246.8L655.0 246.5L656.0 246.2L657.0 246.0L658.0 246.1L659.0 246.5L660.0 247.2L661.0 248.0L662.0 248.8L662.3 249.0M672.9 247.8L673.0 247.8L674.0 247.6L675.0 247.5L676.0 247.3L677.0 247.1L678.0 246.9L679.0 246.7L680.0 246.5L681.0 246.2L682.0 245.9L683.0 245.6L684.0 245.2L684.2 245.1M694.7 247.2L700.0 248.5L704.5 250.0L705.8 249.7M716.5 248.0L722.0 248.0" stroke="#0000ff"/>
<path d="M84.0 242.6L84.3 242.6M95.0 244.3L96.0 244.5L97.0 244.7L98.0 244.8L99.0 245.0L100.0 245.1L101.0 245.3L102.0 245.5L103.0 245.7L104.0 245.9L105.0 246.2L106.0 246.5L106.4 246.7M115.8 252.0L116.0 252.0L117.0 251.9L118.0 251.8L119.0 251.6L120.0 251.4L121.0 251.2L122.0 251.0L123.0 250.7L124.0 250.5L125.0 250.2L126.0 249.9L127.0 249.6L127.1 249.6M137.8 246.2L138.0 246.1L139.0 245.8L140.0 245.5L141.0 245.2L142.0 244.9L143.0 244.6L144.0 244.3L145.0 244.0L146.0 243.7L147.0 243.5L148.0 243.2L149.0 243.0M159.3 241.5L160.0 241.5L161.0 241.4L162.0 241.4L163.0 241.3L164.0 241.3L165.0 241.3L166.0 241.3L167.0 241.3L168.0 241.4L169.0 241.4L170.0 241.4L170.9 241.5M181.5 242.6L182.0 242.6L183.0 242.8L184.0 242.9L185.0 243.1L186.0 243.3L187.0 243.4L188.0 243.6L189.0 243.8L190.0 244.0L191.0 244.2L192.0 244.4L192.9 244.6M203.0 247.6L204.0 248.0L205.0 248.4L206.0 248.9L207.0 249.3L208.0 249.8L209.0 250.3L210.0 250.8L211.0 251.3L212.0 251.9L213.0 252.4L213.4 252.7M226.0 257.0L227.0 257.4L228.0 257.8L229.0 258.3L230.0 258.8L231.0 259.2L232.0 259.8L233.0 260.3L234.0 260.8L235.0 261.4L236.0 262.0L236.3 262.2M244.8 268.5L245.0 268.6L246.0 269.3L247.0 269.9L248.0 270.5L249.0 271.0L250.0 271.6L251.0 272.2L252.0 272.7L253.0 273.3L254.0 273.8L254.9 274.3M265.0 279.4L266.0 279.8L267.0 280.1L268.0 280.4L269.0 280.8L270.0 281.1L271.0 281.3L272.0 281.6L273.0 281.9L274.0 282.2L275.0 282.4L276.0 282.7L276.1 282.7M286.8 285.1L287.0 285.1L288.0 285.4L289.0 285.6L290.0 285.8L291.0 286.1L292.0 286.3L293.0 286.5L294.0 286.7L295.0 287.0L296.0 287.2L297.0 287.4L298.0 287.5L298.1 287.6M309.2 289.0L310.0 289.1L311.0 289.3L312.0 289.5L313.0 289.7L314.0 289.8L315.0 290.0L316.0 290.2L317.0 290.4L318.0 290.6L319.0 290.8L320.0 291.0L320.6 291.1M331.7 292.9L332.0 292.9L333.0 293.0L334.0 293.1L335.0 293.2L336.0 293.3L337.0 293.4L338.0 293.4L339.0 293.5L340.0 293.6L341.0 293.7L342.0 293.7L343.0 293.8L343.3 293.8M354.2 294.4L355.0 294.5L356.0 294.5L357.0 294.6L358.0 294.6L359.0 294.6L360.0 294.7L361.0 294.7L362.0 294.7L363.0 294.7L364.0 294.7L365.0 294.7L365.8 294.7M376.7 294.2L377.0 294.2L378.0 294.1L379.0 294.1L380.0 294.0L381.0 293.9L382.0 293.9L383.0 293.8L384.0 293.7L385.0 293.6L386.0 293.5L387.0 293.3L388.0 293.2L388.3 293.2M399.3 291.6L400.0 291.5L401.0 291.3L402.0 291.2L403.0 291.0L404.0 290.8L405.0 290.6L406.0 290.4L407.0 290.3L408.0 290.1L409.0 289.9L410.0 289.7L410.8 289.5M421.7 287.1L422.0 287.0L423.0 286.8L424.0 286.5L425.0 286.3L426.0 286.0L427.0 285.8L428.0 285.5L429.0 285.3L430.0 285.0L431.0 284.7L432.0 284.5L432.9 284.2M443.9 280.8L444.0 280.8L445.0 280.5L446.0 280.2L447.0 279.9L448.0 279.6L449.0 279.3L450.0 279.0L451.0 278.7L452.0 278.4L453.0 278.1L454.0 277.7L455.0 277.4L455.0 277.4M466.0 273.9L467.0 273.6L468.0 273.2L469.0 272.9L470.0 272.5L471.0 272.2L472.0 271.9L473.0 271.5L474.0 271.2L475.0 270.8L476.0 270.5L477.0 270.1M487.6 266.8L488.0 266.7L489.0 266.4L490.0 266.1L491.0 265.8L492.0 265.5L493.0 265.3L494.0 265.0L495.0 264.8L496.0 264.5L497.0 264.2L498.0 264.0L498.8 263.8M509.7 261.3L510.0 261.2L511.0 261.0L512.0 260.8L513.0 260.6L514.0 260.4L515.0 260.2L516.0 260.0L517.0 259.8L518.0 259.6L519.0 259.4L520.0 259.2L521.0 259.0L521.1 259.0M532.0 257.0L533.0 256.9L534.0 256.7L535.0 256.5L536.0 256.4L537.0 256.2L538.0 256.0L539.0 255.9L540.0 255.7L541.0 255.6L542.0 255.4L543.0 255.3L543.5 255.2M554.6 253.8L555.0 253.8L556.0 253.6L557.0 253.5L558.0 253.4L559.0 253.3L560.0 253.2L561.0 253.1L562.0 253.0L563.0 252.9L564.0 252.8L565.0 252.7L566.0 252.6L566.1 252.6M577.2 251.5L578.0 251.4L579.0 251.3L580.0 251.3L581.0 251.2L582.0 251.1L583.0 251.0L584.0 250.9L585.0 250.9L586.0 250.8L587.0 250.7L588.0 250.6L588.8 250.6M599.7 249.8L600.0 249.8L601.0 249.7L602.0 249.6L603.0 249.6L604.0 249.5L605.0 249.4L606.0 249.3L607.0 249.2L608.0 249.2L609.0 249.1L610.0 249.0L611.0 248.9L611.3 248.9M622.1 248.3L623.0 248.3L624.0 248.2L625.0 248.2L626.0 248.2L627.0 248.1L628.0 248.1L629.0 248.1L630.0 248.0L631.0 248.0L632.0 248.0L633.0 247.9L633.7 247.9M646.0 247.7L647.0 247.7L648.0 247.7L649.0 247.7L650.0 247.7L651.0 247.6L652.0 247.6L653.0 247.6L654.0 247.6L655.0 247.6L656.0 247.6L657.0 247.6L657.6 247.6M667.0 247.6L668.0 247.6L669.0 247.6L670.0 247.6L671.0 247.6L672.0 247.6L673.0 247.6L674.0 247.6L675.0 247.6L676.0 247.6L677.0 247.6L678.0 247.6L678.6 247.6M687.0 247.6L698.6 247.6M704.5 247.6L713.0 247.6L716.1 247.6" stroke="#ff00ff"/>
<path d="M84.0 242.6L84.3 242.6M95.0 244.3L96.0 244.5L97.0 244.7L98.0 244.8L99.0 245.0L100.0 245.1L101.0 245.3L102.0 245.5L103.0 245.7L104.0 245.9L105.0 246.2L106.0 246.5L106.4 246.7M115.8 252.0L116.0 252.0L117.0 251.9L118.0 251.8L119.0 251.6L120.0 251.4L121.0 251.2L122.0 251.0L123.0 250.7L124.0 250.5L125.0 250.2L126.0 249.9L127.0 249.6L127.1 249.6M137.8 246.2L138.0 246.1L139.0 245.8L140.0 245.5L141.0 245.2L142.0 244.9L143.0 244.6L144.0 244.3L145.0 244.0L146.0 243.7L147.0 243.5L148.0 243.2L149.0 243.0M159.3 241.5L160.0 241.5L161.0 241.4L162.0 241.4L163.0 241.3L164.0 241.3L165.0 241.3L166.0 241.3L167.0 241.3L168.0 241.4L169.0 241.4L170.0 241.4L170.9 241.5M181.5 242.6L182.0 242.6L183.0 242.8L184.0 242.9L185.0 243.1L186.0 243.3L187.0 243.4L188.0 243.6L189.0 243.8L190.0 244.0L191.0 244.2L192.0 244.4L192.9 244.6M203.0 247.6L204.0 248.0L205.0 248.4L206.0 248.9L207.0 249.3L208.0 249.8L209.0 250.3L210.0 250.8L211.0 251.3L212.0 251.8L213.0 252.4L213.5 252.6M224.5 257.8L225.0 258.1L226.0 258.6L227.0 259.2L228.0 259.7L229.0 260.3L230.0 260.9L231.0 261.5L232.0 262.1L233.0 262.8L234.0 263.5L234.4 263.8M243.4 271.2L244.0 271.6L245.0 272.2L246.0 272.8L247.0 273.4L248.0 273.9L249.0 274.4L250.0 275.0L251.0 275.5L252.0 276.1L253.0 276.8L253.4 277.1M261.3 284.7L262.0 285.1L263.0 285.7L264.0 286.3L265.0 286.8L266.0 287.2L267.0 287.7L268.0 288.1L269.0 288.5L270.0 288.9L271.0 289.3L271.8 289.6M282.9 293.5L283.0 293.6L284.0 293.9L285.0 294.2L286.0 294.6L287.0 294.9L288.0 295.2L289.0 295.5L290.0 295.8L291.0 296.2L292.0 296.5L293.0 296.8L293.9 297.1M304.3 300.0L305.0 300.2L306.0 300.5L307.0 300.9L308.0 301.2L309.0 301.5L310.0 301.9L311.0 302.2L312.0 302.5L313.0 302.9L314.0 303.2L315.0 303.6L315.3 303.7M326.7 308.0L327.0 308.1L328.0 308.5L329.0 308.9L330.0 309.3L331.0 309.7L332.0 310.1L333.0 310.5L334.0 310.9L335.0 311.3L336.0 311.7L337.0 312.1L337.5 312.2M348.4 316.7L349.0 317.0L350.0 317.4L351.0 317.9L352.0 318.3L353.0 318.8L354.0 319.2L355.0 319.7L356.0 320.2L357.0 320.6L358.0 321.1L359.0 321.5L359.0 321.5M370.0 325.8L371.0 326.2L372.0 326.6L373.0 326.9L374.0 327.3L375.0 327.6L376.0 328.0L377.0 328.3L378.0 328.6L379.0 329.0L380.0 329.3L381.0 329.6M391.6 333.1L392.0 333.2L393.0 333.5L394.0 333.7L395.0 333.9L396.0 334.2L397.0 334.4L398.0 334.5L399.0 334.7L400.0 334.9L401.0 335.1L402.0 335.3L402.9 335.5M414.0 336.9L415.0 337.0L416.0 337.0L417.0 337.0L418.0 337.0L419.0 337.0L420.0 337.0L421.0 336.9L422.0 336.9L423.0 336.9L424.0 336.8L425.0 336.8L425.6 336.7M434.2 336.1L435.0 336.0L436.0 335.9L437.0 335.8L438.0 335.7L439.0 335.5L440.0 335.3L441.0 335.1L442.0 334.8L443.0 334.5L444.0 334.1L445.0 333.7L445.4 333.5M456.1 328.3L457.0 327.9L458.0 327.4L459.0 326.8L460.0 326.3L461.0 325.7L462.0 325.2L463.0 324.6L464.0 324.0L465.0 323.4L466.0 322.8L466.2 322.7M476.3 316.2L477.0 315.7L478.0 315.0L479.0 314.3L480.0 313.5L481.0 312.8L482.0 312.0L483.0 311.3L484.0 310.5L485.0 309.8L485.7 309.3M496.1 302.6L497.0 302.1L498.0 301.5L499.0 300.9L500.0 300.4L501.0 299.8L502.0 299.3L503.0 298.8L504.0 298.2L505.0 297.7L506.0 297.1L506.3 297.0M515.5 292.2L516.0 291.9L517.0 291.4L518.0 290.9L519.0 290.4L520.0 289.9L521.0 289.4L522.0 288.9L523.0 288.4L524.0 287.9L525.0 287.4L525.9 287.0M535.1 282.3L536.0 281.9L537.0 281.4L538.0 280.9L539.0 280.4L540.0 279.9L541.0 279.4L542.0 278.9L543.0 278.4L544.0 278.0L545.0 277.5L545.5 277.3M555.0 273.2L556.0 272.8L557.0 272.3L558.0 271.9L559.0 271.5L560.0 271.1L561.0 270.7L562.0 270.3L563.0 269.9L564.0 269.5L565.0 269.1L565.7 268.8M576.2 264.7L577.0 264.5L578.0 264.1L579.0 263.7L580.0 263.4L581.0 263.0L582.0 262.7L583.0 262.3L584.0 262.0L585.0 261.7L586.0 261.3L587.0 261.0L587.2 260.9M597.8 257.6L598.0 257.6L599.0 257.3L600.0 257.0L601.0 256.7L602.0 256.4L603.0 256.2L604.0 255.9L605.0 255.6L606.0 255.4L607.0 255.1L608.0 254.9L609.0 254.6L609.0 254.6M619.9 252.2L620.0 252.1L621.0 251.9L622.0 251.7L623.0 251.5L624.0 251.3L625.0 251.2L626.0 251.0L627.0 250.8L628.0 250.6L629.0 250.4L630.0 250.3L631.0 250.1L631.3 250.0M641.8 248.5L642.0 248.5L643.0 248.4L644.0 248.3L645.0 248.2L646.0 248.1L647.0 248.0L648.0 248.0L649.0 248.0L650.0 248.0L651.0 248.0L652.0 248.0L653.0 248.0L653.4 248.0M664.3 247.9L665.0 247.9L666.0 247.9L667.0 247.9L668.0 247.9L669.0 247.9L670.0 247.8L671.0 247.8L672.0 247.8L673.0 247.8L674.0 247.7L675.0 247.7L675.9 247.7M686.4 245.6L691.0 247.5L697.0 248.0L697.6 247.8M708.1 244.9L713.0 243.8L719.5 243.8" stroke="#00ffff"/>
<path d="M84.0 242.6L84.3 242.6M95.0 244.3L96.0 244.5L97.0 244.7L98.0 244.8L99.0 245.0L100.0 245.1L101.0 245.3L102.0 245.5L103.0 245.7L104.0 245.9L105.0 246.2L106.0 246.5L106.4 246.7M115.8 252.0L116.0 252.0L117.0 251.9L118.0 251.8L119.0 251.6L120.0 251.4L121.0 251.2L122.0 251.0L123.0 250.7L124.0 250.5L125.0 250.2L126.0 249.9L127.0 249.6L127.1 249.6M137.8 246.2L138.0 246.1L139.0 245.8L140.0 245.5L141.0 245.2L142.0 244.9L143.0 244.6L144.0 244.3L145.0 244.0L146.0 243.7L147.0 243.5L148.0 243.2L149.0 243.0M159.3 241.5L160.0 241.5L161.0 241.4L162.0 241.4L163.0 241.3L164.0 241.3L165.0 241.3L166.0 241.3L167.0 241.3L168.0 241.4L169.0 241.4L170.0 241.4L170.9 241.5M181.5 242.6L182.0 242.6L183.0 242.8L184.0 242.9L185.0 243.1L186.0 243.3L187.0 243.4L188.0 243.6L189.0 243.8L190.0 244.0L191.0 244.2L192.0 244.4L192.9 244.6M203.0 247.6L204.0 248.0L205.0 248.4L206.0 248.9L207.0 249.3L208.0 249.8L209.0 250.3L210.0 250.8L211.0 251.3L212.0 251.8L213.0 252.3L213.5 252.6M223.4 258.5L224.0 258.9L225.0 259.5L226.0 260.1L227.0 260.6L228.0 261.2L229.0 261.8L230.0 262.4L231.0 263.0L232.0 263.7L233.0 264.4L233.2 264.6M242.1 273.1L243.0 273.8L244.0 274.6L245.0 275.3L246.0 275.9L247.0 276.6L248.0 277.3L249.0 278.0L250.0 278.7L251.0 279.5L251.5 279.9M259.3 287.7L260.0 288.2L261.0 288.9L262.0 289.5L263.0 290.1L264.0 290.7L265.0 291.2L266.0 291.8L267.0 292.3L268.0 292.8L269.0 293.3L269.4 293.4M279.6 297.9L280.0 298.1L281.0 298.4L282.0 298.8L283.0 299.1L284.0 299.5L285.0 299.8L286.0 300.2L287.0 300.5L288.0 300.8L289.0 301.2L290.0 301.5L290.6 301.7M301.0 305.6L302.0 305.9L303.0 306.3L304.0 306.6L305.0 306.9L306.0 307.2L307.0 307.5L308.0 307.8L309.0 308.1L310.0 308.5L311.0 308.8L312.0 309.2L312.0 309.2M322.7 314.7L323.0 314.9L324.0 315.5L325.0 316.0L326.0 316.6L327.0 317.2L328.0 317.8L329.0 318.4L330.0 319.0L331.0 319.6L332.0 320.2L332.7 320.6M341.7 326.1L342.0 326.3L343.0 326.9L344.0 327.5L345.0 328.2L346.0 328.8L347.0 329.5L348.0 330.2L349.0 330.8L350.0 331.5L351.0 332.2L351.4 332.4M360.0 338.5L361.0 339.3L362.0 340.0L363.0 340.8L364.0 341.5L365.0 342.3L366.0 343.1L367.0 343.9L368.0 344.7L369.0 345.6L369.1 345.7M376.7 352.1L377.0 352.4L378.0 353.3L379.0 354.1L380.0 355.0L381.0 355.9L382.0 356.7L383.0 357.6L384.0 358.5L385.0 359.4L385.4 359.8M394.0 367.6L395.0 368.5L396.0 369.4L397.0 370.3L398.0 371.2L399.0 372.1L400.0 373.0L401.0 373.9L402.0 374.8L402.6 375.3M411.7 383.8L412.0 384.1L413.0 385.0L414.0 386.0L415.0 386.9L416.0 387.8L417.0 388.7L418.0 389.7L419.0 390.6L420.0 391.5L420.2 391.7M427.7 398.8L428.0 399.1L429.0 400.0L430.0 400.9L431.0 401.7L432.0 402.6L433.0 403.3L434.0 404.1L435.0 404.8L436.0 405.5L436.8 406.0M445.8 411.7L446.0 411.8L447.0 412.3L448.0 412.8L449.0 413.3L450.0 413.7L451.0 414.1L452.0 414.5L453.0 414.9L454.0 415.2L455.0 415.6L456.0 415.9L456.5 416.1M469.0 417.9L470.0 417.9L471.0 417.9L472.0 417.8L473.0 417.7L474.0 417.6L475.0 417.5L476.0 417.3L477.0 417.2L478.0 417.0L479.0 416.8L480.0 416.6L480.5 416.4M490.2 412.0L491.0 411.5L492.0 410.9L493.0 410.3L494.0 409.6L495.0 408.9L496.0 408.2L497.0 407.5L498.0 406.8L499.0 406.0L499.8 405.4M507.7 399.0L508.0 398.7L509.0 397.9L510.0 397.0L511.0 396.0L512.0 395.1L513.0 394.1L514.0 393.1L515.0 392.1L516.0 391.1L516.1 391.0M523.2 383.3L524.0 382.4L525.0 381.3L526.0 380.1L527.0 378.9L528.0 377.6L529.0 376.4L530.0 375.1L530.5 374.4M537.4 365.1L538.0 364.3L539.0 362.9L540.0 361.5L541.0 360.2L542.0 358.8L543.0 357.4L544.0 356.0L544.2 355.7M550.3 347.0L551.0 345.9L552.0 344.5L553.0 343.0L554.0 341.5L555.0 340.0L556.0 338.5L556.8 337.3M563.3 327.4L564.0 326.2L565.0 324.6L566.0 323.0L567.0 321.4L568.0 319.8L569.0 318.2L569.5 317.5M578.2 305.2L579.0 304.2L580.0 302.9L581.0 301.6L582.0 300.4L583.0 299.2L584.0 298.0L585.0 296.8L585.5 296.2M592.9 288.6L593.0 288.5L594.0 287.6L595.0 286.7L596.0 285.8L597.0 284.9L598.0 284.0L599.0 283.1L600.0 282.3L601.0 281.4L601.6 280.9M608.6 275.4L609.0 275.1L610.0 274.3L611.0 273.5L612.0 272.7L613.0 272.0L614.0 271.2L615.0 270.4L616.0 269.7L617.0 268.9L617.8 268.3M626.4 261.7L627.0 261.3L628.0 260.7L629.0 260.1L630.0 259.6L631.0 259.0L632.0 258.5L633.0 258.0L634.0 257.6L635.0 257.1L636.0 256.7L636.7 256.4M647.0 252.9L648.0 252.6L649.0 252.2L650.0 251.9L651.0 251.6L652.0 251.2L653.0 250.9L654.0 250.6L655.0 250.3L656.0 250.0L657.0 249.7L658.0 249.5L658.1 249.5M668.6 247.9L669.0 247.9L670.0 247.9L671.0 247.9L672.0 247.9L673.0 247.9L674.0 247.9L675.0 247.9L676.0 247.9L677.0 247.9L678.0 247.9L679.0 247.9L680.0 247.9L680.2 247.9M690.8 246.1L691.0 246.0L694.0 250.8L696.8 245.9M704.1 247.8L707.0 248.5L713.0 250.7L715.3 250.7" stroke="#000000"/>
</g>
<g stroke="#000" stroke-width="1.2" fill="none">
<rect x="96.0" y="85.7" width="617.0" height="333.0"/>
</g>
<g stroke="#000" stroke-width="1.0" fill="none">
<path d="M142.43 418.7v-5.6M142.43 85.7v5.6M169.60 418.7v-5.6M169.60 85.7v5.6M188.87 418.7v-5.6M188.87 85.7v5.6M203.82 418.7v-5.6M203.82 85.7v5.6M216.03 418.7v-5.6M216.03 85.7v5.6M226.36 418.7v-5.6M226.36 85.7v5.6M235.30 418.7v-5.6M235.30 85.7v5.6M243.19 418.7v-5.6M243.19 85.7v5.6M250.25 418.7v-11.0M250.25 85.7v11.0M296.68 418.7v-5.6M296.68 85.7v5.6M323.85 418.7v-5.6M323.85 85.7v5.6M343.12 418.7v-5.6M343.12 85.7v5.6M358.07 418.7v-5.6M358.07 85.7v5.6M370.28 418.7v-5.6M370.28 85.7v5.6M380.61 418.7v-5.6M380.61 85.7v5.6M389.55 418.7v-5.6M389.55 85.7v5.6M397.44 418.7v-5.6M397.44 85.7v5.6M404.50 418.7v-11.0M404.50 85.7v11.0M450.93 418.7v-5.6M450.93 85.7v5.6M478.10 418.7v-5.6M478.10 85.7v5.6M497.37 418.7v-5.6M497.37 85.7v5.6M512.32 418.7v-5.6M512.32 85.7v5.6M524.53 418.7v-5.6M524.53 85.7v5.6M534.86 418.7v-5.6M534.86 85.7v5.6M543.80 418.7v-5.6M543.80 85.7v5.6M551.69 418.7v-5.6M551.69 85.7v5.6M558.75 418.7v-11.0M558.75 85.7v11.0M605.18 418.7v-5.6M605.18 85.7v5.6M632.35 418.7v-5.6M632.35 85.7v5.6M651.62 418.7v-5.6M651.62 85.7v5.6M666.57 418.7v-5.6M666.57 85.7v5.6M678.78 418.7v-5.6M678.78 85.7v5.6M689.11 418.7v-5.6M689.11 85.7v5.6M698.05 418.7v-5.6M698.05 85.7v5.6M705.94 418.7v-5.6M705.94 85.7v5.6M96.0 372.40h11.0M713.0 372.40h-11.0M96.0 289.00h11.0M713.0 289.00h-11.0M96.0 205.60h11.0M713.0 205.60h-11.0M96.0 122.20h11.0M713.0 122.20h-11.0M96.0 414.10h5.6M713.0 414.10h-5.6M96.0 330.70h5.6M713.0 330.70h-5.6M96.0 247.30h5.6M713.0 247.30h-5.6M96.0 163.90h5.6M713.0 163.90h-5.6"/>
</g>
<g stroke="#000" fill="none" stroke-linecap="round" stroke-linejoin="round" stroke-width="1.35">
<path d="M173.89 32.61L173.46 32.23L173.00 31.90L172.52 31.61L172.01 31.36L171.49 31.15L170.95 30.99L170.40 30.88L169.84 30.80L169.27 30.77L168.70 30.79L168.13 30.85L167.57 30.96L167.02 31.11L166.50 31.31L166.00 31.56L165.53 31.86L165.09 32.21L164.68 32.59L164.29 33.02L163.93 33.49L163.62 33.99L163.41 34.52L163.33 35.06L163.41 35.62L163.65 36.15L164.00 36.62L164.44 36.98L164.94 37.22L165.50 37.37L166.08 37.44L166.68 37.45L167.27 37.43L167.85 37.39L168.40 37.35L168.89 37.33"/><path d="M166.94 37.44L166.30 37.40L165.69 37.45L165.11 37.60L164.57 37.82L164.06 38.12L163.58 38.48L163.13 38.89L162.72 39.35L162.36 39.84L162.06 40.36L161.85 40.92L161.75 41.52L161.77 42.13L161.91 42.72L162.17 43.27L162.53 43.75L162.98 44.16L163.49 44.50L164.04 44.75L164.61 44.93L165.21 45.05L165.81 45.10L166.41 45.11L167.01 45.07L167.60 44.98L168.19 44.86L168.77 44.71L169.35 44.52L169.91 44.29L170.45 44.03L170.97 43.73L171.46 43.39L171.91 43.00L172.31 42.55L172.67 42.06"/>
</g>
<circle cx="173.60" cy="32.75" r="1.05" fill="#000"/>
<ellipse cx="167.80" cy="37.40" rx="1.9" ry="0.95" fill="#000"/>
<path d="M185.8 34.5H208.1M185.8 40.8H208.1" stroke="#000" stroke-width="1.25" fill="none"/>
<path d="M274.5 38.9H304.3" stroke="#ff0000" stroke-width="3.9" fill="none"/>
<g stroke="#000" fill="none" stroke-linecap="round" stroke-linejoin="round" stroke-width="1.35">
<path d="M199.39 59.51L198.96 59.13L198.50 58.80L198.02 58.51L197.51 58.26L196.99 58.05L196.45 57.89L195.90 57.78L195.34 57.70L194.77 57.67L194.20 57.69L193.63 57.75L193.07 57.86L192.52 58.01L192.00 58.21L191.50 58.46L191.03 58.76L190.59 59.11L190.18 59.49L189.79 59.92L189.43 60.39L189.12 60.89L188.91 61.42L188.83 61.96L188.91 62.52L189.15 63.05L189.50 63.52L189.94 63.88L190.44 64.12L191.00 64.27L191.58 64.34L192.18 64.35L192.77 64.33L193.35 64.29L193.90 64.25L194.39 64.23"/><path d="M192.44 64.34L191.80 64.30L191.19 64.35L190.61 64.50L190.07 64.72L189.56 65.02L189.08 65.38L188.63 65.79L188.22 66.25L187.86 66.74L187.56 67.26L187.35 67.82L187.25 68.42L187.27 69.03L187.41 69.62L187.67 70.17L188.03 70.65L188.48 71.06L188.99 71.40L189.54 71.65L190.11 71.83L190.71 71.95L191.31 72.00L191.91 72.01L192.51 71.97L193.10 71.88L193.69 71.76L194.27 71.61L194.85 71.42L195.41 71.19L195.95 70.93L196.47 70.63L196.96 70.29L197.41 69.90L197.81 69.45L198.17 68.96"/>
</g>
<circle cx="199.10" cy="59.65" r="1.05" fill="#000"/>
<ellipse cx="193.30" cy="64.30" rx="1.9" ry="0.95" fill="#000"/>
<path d="M211.0 61.4H233.3M211.0 67.7H233.3" stroke="#000" stroke-width="1.25" fill="none"/>
<path d="M274.5 66.3H304.3" stroke="#00ff00" stroke-width="3.9" fill="none"/>
<g stroke="#000" fill="none" stroke-linecap="round" stroke-linejoin="round" stroke-width="1.35">
<path d="M373.99 32.61L373.56 32.23L373.10 31.90L372.62 31.61L372.11 31.36L371.59 31.15L371.05 30.99L370.50 30.88L369.94 30.80L369.37 30.77L368.80 30.79L368.23 30.85L367.67 30.96L367.12 31.11L366.60 31.31L366.10 31.56L365.63 31.86L365.19 32.21L364.78 32.59L364.39 33.02L364.03 33.49L363.72 33.99L363.51 34.52L363.43 35.06L363.51 35.62L363.75 36.15L364.10 36.62L364.54 36.98L365.04 37.22L365.60 37.37L366.18 37.44L366.78 37.45L367.37 37.43L367.95 37.39L368.50 37.35L368.99 37.33"/><path d="M367.04 37.44L366.40 37.40L365.79 37.45L365.21 37.60L364.67 37.82L364.16 38.12L363.68 38.48L363.23 38.89L362.82 39.35L362.46 39.84L362.16 40.36L361.95 40.92L361.85 41.52L361.87 42.13L362.01 42.72L362.27 43.27L362.63 43.75L363.08 44.16L363.59 44.50L364.14 44.75L364.71 44.93L365.31 45.05L365.91 45.10L366.51 45.11L367.11 45.07L367.70 44.98L368.29 44.86L368.87 44.71L369.45 44.52L370.01 44.29L370.55 44.03L371.07 43.73L371.56 43.39L372.01 43.00L372.41 42.55L372.77 42.06"/>
</g>
<circle cx="373.70" cy="32.75" r="1.05" fill="#000"/>
<ellipse cx="367.90" cy="37.40" rx="1.9" ry="0.95" fill="#000"/>
<path d="M385.6 34.5H407.7M385.6 40.8H407.7" stroke="#000" stroke-width="1.25" fill="none"/>
<path d="M449.2 38.9H478.4" stroke="#0000ff" stroke-width="3.9" fill="none"/>
<g stroke="#000" fill="none" stroke-linecap="round" stroke-linejoin="round" stroke-width="1.35">
<path d="M357.99 59.51L357.56 59.13L357.10 58.80L356.62 58.51L356.11 58.26L355.59 58.05L355.05 57.89L354.50 57.78L353.94 57.70L353.37 57.67L352.80 57.69L352.23 57.75L351.67 57.86L351.12 58.01L350.60 58.21L350.10 58.46L349.63 58.76L349.19 59.11L348.78 59.49L348.39 59.92L348.03 60.39L347.72 60.89L347.51 61.42L347.43 61.96L347.51 62.52L347.75 63.05L348.10 63.52L348.54 63.88L349.04 64.12L349.60 64.27L350.18 64.34L350.78 64.35L351.37 64.33L351.95 64.29L352.50 64.25L352.99 64.23"/><path d="M351.04 64.34L350.40 64.30L349.79 64.35L349.21 64.50L348.67 64.72L348.16 65.02L347.68 65.38L347.23 65.79L346.82 66.25L346.46 66.74L346.16 67.26L345.95 67.82L345.85 68.42L345.87 69.03L346.01 69.62L346.27 70.17L346.63 70.65L347.08 71.06L347.59 71.40L348.14 71.65L348.71 71.83L349.31 71.95L349.91 72.00L350.51 72.01L351.11 71.97L351.70 71.88L352.29 71.76L352.87 71.61L353.45 71.42L354.01 71.19L354.55 70.93L355.07 70.63L355.56 70.29L356.01 69.90L356.41 69.45L356.77 68.96"/>
</g>
<circle cx="357.70" cy="59.65" r="1.05" fill="#000"/>
<ellipse cx="351.90" cy="64.30" rx="1.9" ry="0.95" fill="#000"/>
<path d="M369.6 61.4H391.7M369.6 67.7H391.7" stroke="#000" stroke-width="1.25" fill="none"/>
<path d="M449.2 66.3H478.4" stroke="#ff00ff" stroke-width="3.9" fill="none"/>
<g stroke="#000" fill="none" stroke-linecap="round" stroke-linejoin="round" stroke-width="1.35">
<path d="M531.79 32.61L531.36 32.23L530.90 31.90L530.42 31.61L529.91 31.36L529.39 31.15L528.85 30.99L528.30 30.88L527.74 30.80L527.17 30.77L526.60 30.79L526.03 30.85L525.47 30.96L524.92 31.11L524.40 31.31L523.90 31.56L523.43 31.86L522.99 32.21L522.58 32.59L522.19 33.02L521.83 33.49L521.52 33.99L521.31 34.52L521.23 35.06L521.31 35.62L521.55 36.15L521.90 36.62L522.34 36.98L522.84 37.22L523.40 37.37L523.98 37.44L524.58 37.45L525.17 37.43L525.75 37.39L526.30 37.35L526.79 37.33"/><path d="M524.84 37.44L524.20 37.40L523.59 37.45L523.01 37.60L522.47 37.82L521.96 38.12L521.48 38.48L521.03 38.89L520.62 39.35L520.26 39.84L519.96 40.36L519.75 40.92L519.65 41.52L519.67 42.13L519.81 42.72L520.07 43.27L520.43 43.75L520.88 44.16L521.39 44.50L521.94 44.75L522.51 44.93L523.11 45.05L523.71 45.10L524.31 45.11L524.91 45.07L525.50 44.98L526.09 44.86L526.67 44.71L527.25 44.52L527.81 44.29L528.35 44.03L528.87 43.73L529.36 43.39L529.81 43.00L530.21 42.55L530.57 42.06"/>
</g>
<circle cx="531.50" cy="32.75" r="1.05" fill="#000"/>
<ellipse cx="525.70" cy="37.40" rx="1.9" ry="0.95" fill="#000"/>
<path d="M543.8 34.5H566.0M543.8 40.8H566.0" stroke="#000" stroke-width="1.25" fill="none"/>
<path d="M623.7 38.9H652.9" stroke="#00ffff" stroke-width="3.9" fill="none"/>
<g stroke="#000" fill="none" stroke-linecap="round" stroke-linejoin="round" stroke-width="1.35">
<path d="M531.79 59.51L531.36 59.13L530.90 58.80L530.42 58.51L529.91 58.26L529.39 58.05L528.85 57.89L528.30 57.78L527.74 57.70L527.17 57.67L526.60 57.69L526.03 57.75L525.47 57.86L524.92 58.01L524.40 58.21L523.90 58.46L523.43 58.76L522.99 59.11L522.58 59.49L522.19 59.92L521.83 60.39L521.52 60.89L521.31 61.42L521.23 61.96L521.31 62.52L521.55 63.05L521.90 63.52L522.34 63.88L522.84 64.12L523.40 64.27L523.98 64.34L524.58 64.35L525.17 64.33L525.75 64.29L526.30 64.25L526.79 64.23"/><path d="M524.84 64.34L524.20 64.30L523.59 64.35L523.01 64.50L522.47 64.72L521.96 65.02L521.48 65.38L521.03 65.79L520.62 66.25L520.26 66.74L519.96 67.26L519.75 67.82L519.65 68.42L519.67 69.03L519.81 69.62L520.07 70.17L520.43 70.65L520.88 71.06L521.39 71.40L521.94 71.65L522.51 71.83L523.11 71.95L523.71 72.00L524.31 72.01L524.91 71.97L525.50 71.88L526.09 71.76L526.67 71.61L527.25 71.42L527.81 71.19L528.35 70.93L528.87 70.63L529.36 70.29L529.81 69.90L530.21 69.45L530.57 68.96"/>
</g>
<circle cx="531.50" cy="59.65" r="1.05" fill="#000"/>
<ellipse cx="525.70" cy="64.30" rx="1.9" ry="0.95" fill="#000"/>
<path d="M543.8 61.4H566.0M543.8 67.7H566.0" stroke="#000" stroke-width="1.25" fill="none"/>
<path d="M623.7 66.3H652.9" stroke="#000000" stroke-width="3.9" fill="none"/>
<text transform="translate(217.67 45.60) scale(1.060 1)" font-size="31">0.1</text>
<text transform="translate(243.15 72.50) scale(1.000 1)" font-size="31">1</text>
<text transform="translate(417.95 45.60) scale(1.000 1)" font-size="31">5</text>
<text transform="translate(401.81 72.50) scale(1.089 1)" font-size="31">10</text>
<text transform="translate(576.34 45.60) scale(1.084 1)" font-size="31">20</text>
<text transform="translate(576.36 72.50) scale(1.084 1)" font-size="31">40</text>
<text transform="translate(63.49 128.20) scale(1.014 1)" font-size="31">4</text>
<text transform="translate(62.90 211.60) scale(1.120 1)" font-size="31">2</text>
<text transform="translate(62.58 295.00) scale(1.138 1)" font-size="31">0</text>
<text transform="translate(50.99 378.40) scale(1.125 1)" font-size="31">-2</text>
<text transform="translate(77.93 452.20) scale(1.094 1)" font-size="31">0.1</text>
<text transform="translate(244.75 452.20) scale(1.109 1)" font-size="31">1</text>
<text transform="translate(390.64 452.20) scale(1.111 1)" font-size="31">10</text>
<text transform="translate(537.13 452.20) scale(1.080 1)" font-size="31">100</text>
<text transform="translate(683.68 452.20) scale(1.062 1)" font-size="31">1000</text>
<path d="M399.0 470.5C400.6 470.3 402.2 470.9 403.4 472.6L403.8 473.2L410.8 492.4L408.1 492.4L401.4 473.4C400.9 472.2 400.2 471.6 399.0 471.3Z" fill="#000"/>
<path d="M403.5 482.2L404.5 483.4L396.5 493.0L394.7 491.8Z" fill="#000"/>
<g transform="translate(28.4 292.8) rotate(-90)">
<path d="M6.1 -23.6L0 -7.8L6.1 7.6M27.5 -23.6L33.4 -7.8L27.5 7.6M45.4 7.6L56.8 -23.6" stroke="#000" stroke-width="1.3" fill="none" stroke-linejoin="miter"/>
</g>
<g stroke="#000" fill="none" stroke-linecap="round" stroke-linejoin="round">
<path d="M18.68 283.17L18.10 283.03L17.51 282.79L16.94 282.46L16.39 282.06L15.90 281.59L15.49 281.06L15.18 280.48L14.99 279.86L14.95 279.21L15.07 278.55L15.33 277.92L15.71 277.40L16.16 277.04L16.67 276.86L17.24 276.82L17.85 276.92L18.49 277.12" stroke-width="1.0"/>
<path d="M18.49 277.12L19.15 277.40L19.83 277.74L20.51 278.11L21.18 278.50L21.84 278.86L22.48 279.19L23.11 279.47L23.72 279.68L24.32 279.81L24.92 279.83L25.52 279.74L26.11 279.52L26.67 279.19L27.19 278.77L27.63 278.27L27.99 277.72" stroke-width="2.1"/>
<path d="M27.99 277.72L28.23 277.12L28.38 276.49L28.44 275.84L28.41 275.19L28.29 274.55L28.09 273.94L27.81 273.35L27.45 272.82L27.03 272.34L26.54 271.92L26.02 271.54L25.45 271.20L24.87 270.91L24.27 270.65L23.66 270.42L23.04 270.24L22.42 270.08L21.79 269.96L21.16 269.88L20.52 269.83L19.88 269.82L19.24 269.83L18.60 269.89L17.97 269.97L17.33 270.09L16.70 270.24" stroke-width="1.15"/>
</g>
<circle cx="16.90" cy="270.54" r="1.25" fill="#000"/>
<g stroke="#000" fill="none" stroke-linecap="round" stroke-linejoin="round">
<path d="M18.68 232.97L18.10 232.83L17.51 232.59L16.94 232.26L16.39 231.86L15.90 231.39L15.49 230.86L15.18 230.28L14.99 229.66L14.95 229.01L15.07 228.35L15.33 227.72L15.71 227.20L16.16 226.84L16.67 226.66L17.24 226.62L17.85 226.72L18.49 226.92" stroke-width="1.0"/>
<path d="M18.49 226.92L19.15 227.20L19.83 227.54L20.51 227.91L21.18 228.30L21.84 228.66L22.48 228.99L23.11 229.27L23.72 229.48L24.32 229.61L24.92 229.63L25.52 229.54L26.11 229.32L26.67 228.99L27.19 228.57L27.63 228.07L27.99 227.52" stroke-width="2.1"/>
<path d="M27.99 227.52L28.23 226.92L28.38 226.29L28.44 225.64L28.41 224.99L28.29 224.35L28.09 223.74L27.81 223.15L27.45 222.62L27.03 222.14L26.54 221.72L26.02 221.34L25.45 221.00L24.87 220.71L24.27 220.45L23.66 220.22L23.04 220.04L22.42 219.88L21.79 219.76L21.16 219.68L20.52 219.63L19.88 219.62L19.24 219.63L18.60 219.69L17.97 219.77L17.33 219.89L16.70 220.04" stroke-width="1.15"/>
</g>
<circle cx="16.90" cy="220.34" r="1.25" fill="#000"/>
<g transform="translate(28.4 292.8) rotate(-90)">
<text transform="translate(75.04 4.40) scale(1.282 1)" font-size="20">0</text>
</g>
</svg></body></html>
